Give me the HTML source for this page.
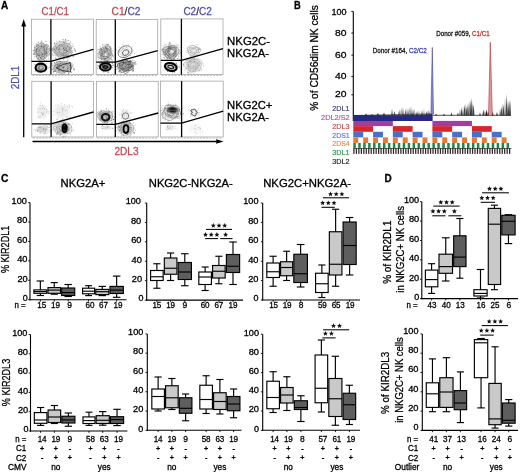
<!DOCTYPE html>
<html><head><meta charset="utf-8"><style>
html,body{margin:0;padding:0;background:#fff;}
svg{display:block;font-family:"Liberation Sans", sans-serif;will-change:transform;}
text{stroke:currentColor;stroke-width:0.28px;}
</style></head><body>
<svg width="520" height="472" viewBox="0 0 520 472">
<rect width="520" height="472" fill="#fff"/>
<text x="1" y="9.3" font-size="10" fill="#000" color="#000" text-anchor="start" font-weight="bold" >A</text>
<text x="41.5" y="14.6" font-size="11.2" textLength="27.5" lengthAdjust="spacingAndGlyphs"><tspan fill="#c44652" color="#c44652">C1/C1</tspan></text>
<text x="111.6" y="14.6" font-size="11.2" textLength="28.8" lengthAdjust="spacingAndGlyphs"><tspan fill="#c44652" color="#c44652">C1</tspan><tspan fill="#3a3a3a" color="#3a3a3a">/</tspan><tspan fill="#4f4fb0" color="#4f4fb0">C2</tspan></text>
<text x="183.4" y="14.6" font-size="11.2" textLength="28.4" lengthAdjust="spacingAndGlyphs"><tspan fill="#4f4fb0" color="#4f4fb0">C2</tspan><tspan fill="#2a2a50" color="#2a2a50">/</tspan><tspan fill="#4f4fb0" color="#4f4fb0">C2</tspan></text>
<text x="227.1" y="45.4" font-size="10.2" fill="#000" color="#000" text-anchor="start" textLength="43.0" lengthAdjust="spacingAndGlyphs" >NKG2C-</text>
<text x="227.1" y="56.9" font-size="10.2" fill="#000" color="#000" text-anchor="start" textLength="41.8" lengthAdjust="spacingAndGlyphs" >NKG2A-</text>
<text x="227.1" y="109.2" font-size="10.2" fill="#000" color="#000" text-anchor="start" textLength="45.3" lengthAdjust="spacingAndGlyphs" >NKG2C+</text>
<text x="227.1" y="120.7" font-size="10.2" fill="#000" color="#000" text-anchor="start" textLength="41.8" lengthAdjust="spacingAndGlyphs" >NKG2A-</text>
<line x1="23.7" y1="26" x2="23.7" y2="137.2" stroke="#000" stroke-width="1.3" />
<path d="M23.7 18.9 L21.3 26.6 L26.1 26.6 Z" fill="#000"/>
<line x1="32.5" y1="141.5" x2="216.5" y2="141.5" stroke="#000" stroke-width="1.3" />
<path d="M223.6 141.5 L216.2 139.3 L216.2 143.7 Z" fill="#000"/>
<text x="19" y="77.5" font-size="11.5" fill="#4f4fb0" color="#4f4fb0" text-anchor="middle" textLength="23.5" lengthAdjust="spacingAndGlyphs" transform="rotate(-90 19 77.5)" >2DL1</text>
<text x="114.5" y="155.3" font-size="11.5" fill="#c44652" color="#c44652" text-anchor="start" textLength="24" lengthAdjust="spacingAndGlyphs" >2DL3</text>
<defs><radialGradient id="soft"><stop offset="0" stop-color="#000"/><stop offset="0.6" stop-color="#000"/><stop offset="1" stop-color="#000" stop-opacity="0"/></radialGradient><radialGradient id="soft2"><stop offset="0" stop-color="#000"/><stop offset="0.35" stop-color="#000"/><stop offset="1" stop-color="#000" stop-opacity="0"/></radialGradient></defs>
<ellipse cx="41.8" cy="51.4" rx="8.2" ry="9.4" fill="url(#soft)" fill-opacity="0.280"/>
<path d="M40.9 52.7h.8M49.8 50.7h.8M41.9 53.3h.8M35.9 51.7h.8M44.2 57.7h.8M34.1 47.1h.8M45.4 41.5h.8M44.7 53.9h.8M42.3 41.9h.8M36.0 45.8h.8M32.9 50.6h.8M40.7 58.8h.8M42.2 54.4h.8M41.8 54.9h.8M41.0 46.6h.8M48.2 55.9h.8M38.3 45.6h.8M37.8 42.1h.8M46.8 49.2h.8M48.3 48.9h.8M49.5 50.8h.8M50.9 49.2h.8M33.7 54.2h.8M47.1 46.4h.8M34.0 47.8h.8M34.6 45.9h.8M47.4 44.4h.8M42.9 50.3h.8M36.0 56.4h.8M34.8 54.5h.8M34.6 49.7h.8M36.4 46.4h.8M38.1 59.7h.8M36.3 49.1h.8M48.5 54.5h.8M36.4 46.2h.8M46.9 47.7h.8M38.0 42.2h.8M34.1 53.2h.8M37.0 53.6h.8M39.4 50.4h.8M50.5 51.0h.8M43.2 59.3h.8M35.8 43.9h.8M37.1 44.7h.8M49.0 53.6h.8M40.3 42.8h.8M36.9 55.8h.8M37.2 58.4h.8M43.6 46.9h.8M35.7 56.2h.8M42.9 59.0h.8M44.0 46.6h.8M40.8 41.9h.8M35.7 48.6h.8M43.2 43.4h.8M39.2 59.9h.8M45.4 53.2h.8M32.8 54.3h.8M41.5 56.4h.8M33.8 52.4h.8M46.3 60.1h.8M46.3 55.8h.8M39.0 55.4h.8M40.2 57.7h.8M48.7 53.0h.8M44.2 48.9h.8M43.4 53.8h.8M33.9 54.4h.8M46.1 49.0h.8M46.2 53.2h.8M40.7 58.7h.8M34.0 56.8h.8M32.9 53.6h.8M41.4 45.6h.8M45.5 51.3h.8M44.0 60.5h.8M38.0 55.3h.8M36.2 44.3h.8M49.5 54.9h.8M40.7 59.9h.8M38.5 55.0h.8M36.1 49.9h.8M49.0 48.9h.8M43.4 47.4h.8M34.9 51.3h.8M48.2 58.9h.8M45.8 61.1h.8M37.6 44.2h.8M40.9 46.5h.8M36.4 49.5h.8M44.2 51.3h.8M38.3 58.7h.8M50.9 50.4h.8M45.7 52.9h.8M38.2 57.7h.8M40.9 41.1h.8M48.0 45.7h.8M44.2 50.2h.8M44.3 54.8h.8M45.3 44.9h.8M41.3 44.5h.8M32.6 50.8h.8M45.8 44.5h.8M37.5 48.1h.8M45.5 51.8h.8M44.0 56.9h.8M39.8 57.7h.8M50.0 56.2h.8M34.8 50.4h.8M44.2 60.3h.8" stroke="#000" stroke-width="0.8" stroke-opacity="0.45" fill="none"/>
<polygon points="48.64,51.40 47.84,52.62 47.34,53.70 47.10,54.90 46.82,56.21 46.20,57.40 45.24,58.22 44.12,58.68 42.98,59.06 41.80,59.56 40.46,60.07 39.01,60.17 37.71,59.50 36.87,58.11 36.57,56.41 36.51,54.89 36.27,53.70 35.66,52.64 34.91,51.40 34.49,49.93 34.71,48.45 35.51,47.25 36.55,46.37 37.53,45.58 38.42,44.71 39.38,43.81 40.54,43.23 41.80,43.25 42.97,43.81 43.99,44.52 45.02,45.03 46.26,45.33 47.68,45.76 48.94,46.69 49.57,48.17 49.38,49.87" fill="none" stroke="#666" stroke-width="0.5" opacity="0.9"/>
<polygon points="46.66,51.40 46.64,52.38 46.45,53.33 45.99,54.16 45.33,54.79 44.66,55.30 44.05,55.86 43.45,56.59 42.72,57.33 41.80,57.79 40.83,57.71 39.98,57.13 39.32,56.31 38.77,55.53 38.14,54.91 37.41,54.30 36.73,53.51 36.34,52.50 36.36,51.40 36.72,50.38 37.18,49.48 37.60,48.63 38.02,47.78 38.56,46.99 39.31,46.47 40.18,46.30 41.03,46.38 41.80,46.45 42.59,46.30 43.52,46.01 44.59,45.87 45.63,46.19 46.37,47.02 46.70,48.17 46.73,49.35 46.67,50.42" fill="none" stroke="#666" stroke-width="0.5" opacity="0.9"/>
<polygon points="44.70,51.40 44.58,51.96 44.53,52.53 44.44,53.14 44.22,53.72 43.83,54.17 43.34,54.44 42.82,54.60 42.31,54.74 41.80,54.89 41.24,55.00 40.67,54.94 40.16,54.65 39.77,54.17 39.47,53.63 39.20,53.11 38.90,52.61 38.60,52.04 38.44,51.40 38.50,50.74 38.80,50.15 39.22,49.70 39.63,49.32 39.99,48.94 40.34,48.52 40.76,48.12 41.26,47.87 41.80,47.83 42.33,47.95 42.84,48.12 43.37,48.30 43.92,48.52 44.43,48.88 44.79,49.43 44.92,50.10 44.85,50.78" fill="none" stroke="#666" stroke-width="0.5" opacity="0.9"/>
<ellipse cx="62.5" cy="50.0" rx="11.5" ry="9.5" fill="url(#soft)" fill-opacity="0.231"/>
<path d="M59.2 51.5h.8M72.5 56.5h.8M74.3 49.2h.8M66.5 43.6h.8M68.4 57.0h.8M66.2 54.8h.8M54.9 58.7h.8M63.5 56.4h.8M57.7 59.0h.8M71.9 46.7h.8M51.5 48.7h.8M63.8 55.9h.8M62.2 39.7h.8M70.4 42.9h.8M58.1 56.3h.8M62.9 54.9h.8M71.5 54.1h.8M74.3 49.8h.8M55.1 50.6h.8M56.9 55.0h.8M66.2 50.5h.8M71.6 51.3h.8M57.5 47.4h.8M54.8 57.7h.8M74.9 50.5h.8M64.4 43.5h.8M63.4 50.1h.8M65.3 39.7h.8M74.9 50.3h.8M59.9 56.6h.8M64.2 49.8h.8M67.6 40.5h.8M63.5 48.1h.8M56.4 49.4h.8M52.6 48.6h.8M61.9 46.0h.8M54.3 52.6h.8M54.4 44.0h.8M67.4 46.1h.8M58.7 52.6h.8M52.0 55.0h.8M52.5 50.2h.8M55.9 43.4h.8M63.3 48.6h.8M59.2 48.1h.8M63.3 42.6h.8M54.7 52.9h.8M66.2 50.6h.8M71.8 52.4h.8M71.9 44.2h.8M68.9 56.8h.8M73.2 46.0h.8M57.6 59.2h.8M55.6 55.0h.8M56.1 41.2h.8M71.3 48.3h.8M70.2 41.8h.8M59.9 54.0h.8M67.3 59.0h.8M62.7 55.6h.8M62.6 54.1h.8M63.9 50.3h.8M64.3 42.3h.8M54.2 43.5h.8M61.5 55.8h.8M57.9 49.3h.8M62.9 48.5h.8M65.2 39.4h.8M67.8 57.5h.8M54.1 49.0h.8M68.8 47.9h.8M54.4 42.7h.8M62.8 39.4h.8M72.9 56.6h.8M67.9 57.9h.8M65.9 47.9h.8M65.1 50.1h.8M56.1 59.0h.8M69.0 56.1h.8M70.8 47.9h.8M67.7 55.8h.8M69.5 47.9h.8M68.4 40.6h.8M58.3 49.3h.8M66.2 52.7h.8M66.9 46.5h.8M66.7 51.5h.8M63.4 47.6h.8M67.8 55.7h.8M65.6 55.2h.8M56.1 47.8h.8M59.2 41.2h.8M55.9 58.9h.8M63.8 50.2h.8M74.9 51.5h.8M65.1 55.7h.8M53.5 49.4h.8M53.7 49.9h.8M65.4 40.4h.8M74.3 48.3h.8M63.2 52.1h.8M58.9 45.3h.8M66.6 51.3h.8M56.8 54.7h.8M53.4 55.6h.8M59.6 58.7h.8M60.6 49.5h.8M63.1 59.6h.8M68.4 49.3h.8M65.2 41.6h.8M65.8 49.0h.8M63.2 41.8h.8M61.0 53.7h.8M61.3 44.8h.8M64.7 48.2h.8M69.9 50.7h.8M68.7 44.3h.8M70.0 52.7h.8M58.8 45.0h.8M67.4 51.4h.8M64.9 52.9h.8M69.2 43.2h.8M56.4 48.4h.8M65.8 41.3h.8M63.6 40.7h.8M51.6 53.9h.8M63.8 52.9h.8M59.1 49.5h.8M54.8 46.6h.8" stroke="#000" stroke-width="0.8" stroke-opacity="0.42" fill="none"/>
<polygon points="70.68,50.00 71.10,51.20 71.65,52.64 71.77,54.25 71.10,55.71 69.71,56.77 68.00,57.39 66.25,57.79 64.55,58.16 62.80,58.41 61.02,58.29 59.44,57.57 58.31,56.39 57.59,55.10 56.95,54.03 55.99,53.23 54.67,52.43 53.38,51.36 52.67,50.00 52.82,48.55 53.63,47.26 54.64,46.13 55.57,45.02 56.46,43.80 57.61,42.62 59.17,41.82 61.00,41.63 62.80,42.00 64.40,42.57 65.88,43.05 67.42,43.43 68.99,43.95 70.26,44.86 70.91,46.15 70.92,47.57 70.68,48.86" fill="none" stroke="#777" stroke-width="0.5" opacity="0.9"/>
<polygon points="69.31,50.00 69.11,50.91 69.13,51.89 69.13,53.00 68.73,54.08 67.76,54.86 66.44,55.17 65.08,55.14 63.88,55.05 62.80,55.10 61.68,55.24 60.49,55.20 59.43,54.80 58.63,54.08 58.06,53.26 57.46,52.53 56.61,51.85 55.60,51.04 54.84,50.00 54.75,48.83 55.43,47.80 56.59,47.06 57.78,46.54 58.75,46.03 59.57,45.41 60.48,44.77 61.60,44.40 62.80,44.45 63.91,44.83 64.89,45.28 65.91,45.58 67.09,45.81 68.34,46.18 69.33,46.90 69.77,47.92 69.66,49.01" fill="none" stroke="#777" stroke-width="0.5" opacity="0.9"/>
<polygon points="67.08,50.00 67.30,50.65 67.24,51.33 66.87,51.93 66.29,52.40 65.64,52.78 64.98,53.10 64.30,53.38 63.57,53.57 62.80,53.59 62.06,53.43 61.41,53.13 60.84,52.78 60.31,52.44 59.78,52.08 59.31,51.65 58.98,51.14 58.84,50.57 58.85,50.00 58.92,49.44 58.97,48.86 59.04,48.22 59.24,47.55 59.67,46.94 60.35,46.52 61.17,46.33 62.02,46.35 62.80,46.48 63.52,46.66 64.18,46.89 64.77,47.20 65.25,47.61 65.61,48.07 65.92,48.52 66.26,48.97 66.68,49.44" fill="none" stroke="#777" stroke-width="0.5" opacity="0.9"/>
<ellipse cx="62.0" cy="67.2" rx="11.0" ry="7.0" fill="url(#soft)" fill-opacity="0.266"/>
<path d="M68.2 72.7h.8M69.8 69.2h.8M68.8 62.6h.8M60.1 63.3h.8M69.8 65.1h.8M57.6 68.0h.8M68.2 74.0h.8M60.2 65.1h.8M63.6 67.0h.8M66.7 64.0h.8M54.7 69.8h.8M51.4 64.0h.8M67.7 70.3h.8M56.5 61.5h.8M58.4 70.8h.8M58.6 61.0h.8M67.3 68.3h.8M72.5 66.2h.8M69.7 64.1h.8M57.4 65.6h.8M55.6 65.0h.8M58.6 65.0h.8M59.4 65.4h.8M54.3 68.2h.8M69.5 67.9h.8M70.5 68.2h.8M53.8 71.4h.8M71.6 63.7h.8M49.9 67.5h.8M63.1 68.3h.8M73.8 69.6h.8M63.2 71.8h.8M68.0 73.6h.8M51.5 69.4h.8M53.0 71.2h.8M65.8 63.1h.8M54.9 71.5h.8M62.5 71.5h.8M59.3 64.6h.8M73.8 70.0h.8M61.8 67.8h.8M67.6 70.6h.8M72.5 65.8h.8M70.3 69.9h.8M70.9 72.1h.8M73.6 69.5h.8M62.6 70.6h.8M69.6 65.9h.8M60.0 61.5h.8M58.9 61.8h.8M54.5 66.0h.8M50.8 64.1h.8M52.3 69.6h.8M69.0 62.0h.8M50.9 66.5h.8M64.1 73.8h.8M54.0 62.6h.8M55.3 70.7h.8M64.4 62.8h.8M54.0 63.7h.8M53.7 71.3h.8M57.2 68.0h.8M70.0 66.9h.8M55.9 73.4h.8M72.5 64.7h.8M63.2 74.6h.8M61.6 62.7h.8M69.6 65.3h.8M62.7 67.5h.8M66.0 63.0h.8M49.6 66.8h.8M58.8 72.0h.8M67.4 68.9h.8M53.3 61.7h.8M57.5 63.3h.8M71.3 67.5h.8M56.1 67.8h.8M53.2 71.6h.8M70.8 72.4h.8M51.4 63.5h.8M67.5 60.7h.8M61.5 66.7h.8M73.5 68.6h.8M71.0 64.0h.8M69.3 65.9h.8M70.3 62.5h.8M63.1 67.6h.8M53.3 72.5h.8M57.2 64.2h.8M51.3 64.1h.8M61.2 70.7h.8M58.5 70.2h.8M52.0 65.5h.8M61.0 74.7h.8M70.3 69.7h.8M67.3 63.0h.8M63.6 66.5h.8M69.6 62.5h.8M64.9 63.8h.8M58.9 67.8h.8M56.9 64.6h.8M59.3 69.9h.8M55.8 62.4h.8M67.9 64.5h.8M73.3 68.2h.8" stroke="#000" stroke-width="0.8" stroke-opacity="0.44" fill="none"/>
<polygon points="71.81,67.00 71.64,68.04 70.92,68.98 69.77,69.70 68.49,70.24 67.36,70.73 66.40,71.35 65.38,72.10 64.09,72.81 62.50,73.24 60.79,73.26 59.15,72.93 57.68,72.38 56.33,71.74 55.10,71.00 54.12,70.12 53.62,69.08 53.68,68.00 54.14,67.00 54.67,66.11 55.04,65.25 55.31,64.33 55.74,63.35 56.59,62.46 57.89,61.85 59.43,61.56 60.99,61.48 62.50,61.43 64.04,61.36 65.69,61.36 67.34,61.60 68.77,62.18 69.84,63.03 70.56,64.00 71.10,64.98 71.55,65.97" fill="none" stroke="#666" stroke-width="0.5" opacity="0.9"/>
<polygon points="68.35,67.00 68.29,67.66 68.02,68.29 67.61,68.90 67.08,69.47 66.37,69.97 65.48,70.33 64.46,70.48 63.44,70.45 62.50,70.33 61.62,70.22 60.73,70.13 59.82,70.00 58.95,69.72 58.27,69.29 57.84,68.73 57.59,68.15 57.41,67.58 57.20,67.00 57.03,66.38 57.04,65.72 57.34,65.08 57.93,64.53 58.72,64.09 59.59,63.75 60.50,63.46 61.48,63.27 62.50,63.24 63.48,63.42 64.31,63.79 64.97,64.25 65.52,64.68 66.12,65.04 66.82,65.39 67.53,65.82 68.09,66.37" fill="none" stroke="#666" stroke-width="0.5" opacity="0.9"/>
<path d="M56.3 67.9 Q63 63.5 70.2 62.8 Q71.5 67.5 70.4 72.0 Q63 71.5 56.3 67.9 Z" fill="none" stroke="#333" stroke-width="0.9"/>
<ellipse cx="40.85" cy="67.65" rx="6.6" ry="5.3" fill="url(#soft)" fill-opacity="0.210"/>
<path d="M44.2 65.6h.8M43.5 70.2h.8M36.0 66.5h.8M46.0 68.8h.8M34.6 64.3h.8M39.4 62.4h.8M47.2 66.8h.8M41.0 69.4h.8M44.9 71.6h.8M39.1 65.6h.8M39.5 61.7h.8M39.3 70.1h.8M43.3 69.0h.8M38.5 69.5h.8M34.9 66.2h.8M41.0 71.2h.8M45.8 69.0h.8M35.7 70.9h.8M47.0 68.2h.8M38.6 67.7h.8M35.4 70.3h.8M48.2 67.8h.8M44.1 71.7h.8M42.8 64.0h.8M34.5 64.5h.8M42.0 70.1h.8M38.3 72.9h.8M38.7 67.2h.8M41.5 68.4h.8M41.8 64.8h.8M45.7 68.9h.8M35.1 71.6h.8M37.6 72.5h.8M36.9 68.5h.8M45.9 63.8h.8M41.6 62.5h.8M43.3 65.3h.8M43.4 70.5h.8M39.1 68.8h.8" stroke="#000" stroke-width="0.8" stroke-opacity="0.40" fill="none"/>
<ellipse cx="40.85" cy="67.65" rx="5.3" ry="4.0" fill="none" stroke="#000" stroke-width="2.1" opacity="1"/>
<ellipse cx="40.85" cy="67.65" rx="2.6" ry="1.8" fill="none" stroke="#444" stroke-width="0.6" opacity="1"/>
<ellipse cx="105.6" cy="53.6" rx="7.8" ry="8.6" fill="url(#soft)" fill-opacity="0.280"/>
<path d="M100.2 53.0h.8M99.2 51.4h.8M106.8 47.1h.8M106.0 48.9h.8M106.8 50.3h.8M108.1 44.5h.8M108.7 46.6h.8M113.8 55.6h.8M105.1 51.8h.8M107.8 57.3h.8M110.2 58.6h.8M105.3 63.4h.8M111.7 60.6h.8M104.0 52.3h.8M106.8 61.6h.8M106.1 54.1h.8M104.4 61.6h.8M102.4 44.8h.8M109.6 61.5h.8M109.8 55.5h.8M110.1 49.7h.8M107.3 45.1h.8M98.9 52.6h.8M105.6 51.6h.8M97.6 57.5h.8M106.1 48.4h.8M102.1 51.5h.8M108.6 60.8h.8M104.2 59.6h.8M100.6 58.5h.8M106.8 61.6h.8M98.4 59.4h.8M98.9 54.3h.8M101.0 49.6h.8M102.5 44.9h.8M103.8 50.8h.8M107.1 44.6h.8M102.2 53.6h.8M105.1 47.8h.8M101.9 62.0h.8M111.7 50.7h.8M105.1 47.1h.8M100.3 56.2h.8M100.1 61.1h.8M109.7 49.9h.8M109.4 46.4h.8M109.1 62.3h.8M104.6 45.3h.8M100.6 49.8h.8M109.4 47.6h.8M99.9 48.4h.8M108.6 59.3h.8M103.3 56.8h.8M112.5 55.4h.8M100.7 49.7h.8M113.3 56.9h.8M101.6 56.4h.8M104.5 54.2h.8M106.2 44.6h.8M107.4 49.3h.8M101.1 59.6h.8M98.2 49.4h.8M110.2 48.6h.8M101.6 54.6h.8M104.9 58.6h.8M103.5 62.1h.8M105.6 47.3h.8M106.6 56.5h.8M103.1 56.7h.8M110.7 53.9h.8M105.7 60.4h.8M108.9 54.0h.8M110.6 47.0h.8M107.5 48.4h.8M104.5 59.0h.8M110.7 59.4h.8M100.9 53.4h.8M100.6 55.2h.8M105.6 44.4h.8M107.3 57.8h.8M106.9 61.0h.8M99.9 46.7h.8M96.9 53.5h.8M104.4 52.4h.8M101.3 59.5h.8M106.8 54.5h.8M110.8 48.4h.8M99.3 49.9h.8M97.4 49.9h.8M107.8 54.1h.8M101.4 55.4h.8M99.7 48.8h.8M99.5 57.4h.8M111.5 59.3h.8M97.7 51.8h.8M103.2 48.0h.8M105.4 58.8h.8" stroke="#000" stroke-width="0.8" stroke-opacity="0.45" fill="none"/>
<polygon points="111.94,53.60 112.35,54.94 112.28,56.33 111.65,57.52 110.70,58.40 109.71,59.09 108.78,59.77 107.82,60.45 106.75,60.92 105.60,60.94 104.52,60.50 103.57,59.85 102.65,59.34 101.54,59.02 100.22,58.67 98.92,57.92 98.09,56.67 98.00,55.10 98.57,53.60 99.41,52.38 100.14,51.37 100.62,50.38 101.05,49.32 101.64,48.31 102.49,47.57 103.49,47.11 104.52,46.76 105.60,46.33 106.82,45.86 108.18,45.65 109.48,46.07 110.41,47.17 110.83,48.68 110.90,50.17 111.00,51.40 111.37,52.46" fill="none" stroke="#666" stroke-width="0.5" opacity="0.9"/>
<polygon points="111.33,53.60 111.12,54.69 110.41,55.56 109.49,56.12 108.66,56.48 108.07,56.89 107.60,57.48 107.07,58.13 106.39,58.61 105.60,58.77 104.80,58.68 104.01,58.51 103.15,58.37 102.21,58.13 101.32,57.62 100.74,56.75 100.60,55.64 100.84,54.54 101.18,53.60 101.38,52.77 101.41,51.89 101.46,50.92 101.77,50.00 102.42,49.35 103.27,49.07 104.11,49.02 104.87,48.96 105.60,48.76 106.40,48.53 107.25,48.52 108.04,48.85 108.68,49.48 109.20,50.21 109.75,50.92 110.39,51.64 111.01,52.53" fill="none" stroke="#666" stroke-width="0.5" opacity="0.9"/>
<polygon points="108.69,53.60 108.63,54.20 108.37,54.73 108.05,55.19 107.76,55.63 107.47,56.10 107.11,56.53 106.64,56.80 106.11,56.83 105.60,56.70 105.13,56.56 104.65,56.52 104.09,56.53 103.48,56.43 102.96,56.08 102.68,55.49 102.69,54.79 102.86,54.14 103.03,53.60 103.10,53.11 103.11,52.58 103.19,52.04 103.42,51.55 103.78,51.17 104.20,50.88 104.61,50.57 105.07,50.20 105.60,49.89 106.20,49.80 106.75,50.05 107.15,50.59 107.38,51.22 107.56,51.76 107.80,52.17 108.16,52.56 108.51,53.03" fill="none" stroke="#666" stroke-width="0.5" opacity="0.9"/>
<ellipse cx="106" cy="54.5" rx="1.5" ry="1.5" fill="#fff" fill-opacity="0.6"/>
<ellipse cx="125" cy="51.7" rx="8.5" ry="7.0" fill="url(#soft)" fill-opacity="0.070"/>
<path d="M124.1 55.6h.8M122.9 48.4h.8M123.5 44.9h.8M130.1 55.5h.8M119.7 47.7h.8M126.0 47.5h.8M124.2 58.7h.8M122.3 49.1h.8M134.4 53.5h.8M116.0 50.1h.8M127.9 44.6h.8M121.9 54.8h.8M132.1 53.2h.8M132.6 51.1h.8M122.9 57.2h.8M122.7 56.2h.8M119.4 49.2h.8M118.8 52.5h.8M118.4 46.9h.8M119.4 51.2h.8M121.3 50.8h.8M132.1 46.9h.8M122.7 44.8h.8" stroke="#000" stroke-width="0.8" stroke-opacity="0.30" fill="none"/>
<ellipse cx="125" cy="51.7" rx="7.4" ry="5.4" fill="none" stroke="#666" stroke-width="0.7" opacity="1" transform="rotate(-30 125 51.7)"/>
<ellipse cx="125.7" cy="52.6" rx="3.4" ry="2.6" fill="none" stroke="#555" stroke-width="0.8" opacity="1" transform="rotate(-30 125.7 52.6)"/>
<ellipse cx="105.4" cy="66.9" rx="7.6" ry="5.2" fill="url(#soft)" fill-opacity="0.315"/>
<path d="M108.7 65.3h.8M99.8 64.1h.8M103.5 72.0h.8M109.2 64.1h.8M103.0 62.8h.8M113.0 65.2h.8M110.0 69.6h.8M102.3 65.5h.8M102.3 70.1h.8M105.7 61.6h.8M103.5 63.8h.8M107.1 61.3h.8M102.1 66.0h.8M106.2 62.5h.8M109.0 64.0h.8M109.3 68.9h.8M99.2 63.4h.8M101.6 69.4h.8M103.7 65.5h.8M111.8 63.6h.8M101.8 65.0h.8M97.1 68.5h.8M106.6 70.6h.8M108.4 71.9h.8M100.4 69.2h.8M108.3 72.3h.8M111.8 63.7h.8M107.7 62.0h.8M104.1 65.6h.8M97.7 65.5h.8M102.4 66.9h.8M101.6 62.8h.8M103.7 66.6h.8M99.6 68.9h.8M100.9 62.0h.8M102.6 66.0h.8M99.3 67.9h.8M108.9 67.5h.8M103.5 65.3h.8M97.8 65.8h.8M97.6 66.8h.8M106.9 66.5h.8M102.4 64.0h.8M112.2 67.7h.8M101.2 68.9h.8M99.9 66.5h.8M107.4 72.3h.8M103.0 67.8h.8M107.6 68.3h.8M103.8 65.9h.8M101.5 70.8h.8M112.0 65.5h.8M99.0 67.0h.8M102.1 65.2h.8M100.0 63.7h.8M108.5 63.7h.8M103.5 63.8h.8M105.3 68.7h.8M106.2 68.4h.8M106.5 70.9h.8M113.6 64.9h.8M102.7 71.5h.8M102.1 69.5h.8M108.8 69.1h.8M99.4 68.4h.8" stroke="#000" stroke-width="0.8" stroke-opacity="0.47" fill="none"/>
<ellipse cx="105.4" cy="67.0" rx="4.8" ry="3.0" fill="url(#soft2)" fill-opacity="0.550"/>
<ellipse cx="105.4" cy="66.9" rx="5.4" ry="3.6" fill="none" stroke="#000" stroke-width="1.9" opacity="1"/>
<ellipse cx="105.4" cy="67.1" rx="2.4" ry="1.2" fill="none" stroke="#111" stroke-width="1.2" opacity="1"/>
<ellipse cx="125.5" cy="65.8" rx="9.4" ry="7.0" fill="url(#soft)" fill-opacity="0.336"/>
<path d="M125.3 66.8h.8M122.7 62.3h.8M130.9 66.3h.8M119.8 61.8h.8M121.7 60.6h.8M125.8 59.8h.8M116.9 69.1h.8M117.1 65.0h.8M131.4 65.5h.8M118.2 71.7h.8M120.2 65.9h.8M131.9 64.1h.8M130.2 61.8h.8M130.2 63.0h.8M121.9 70.0h.8M132.9 71.1h.8M127.0 64.5h.8M130.0 67.8h.8M132.7 70.6h.8M117.4 63.8h.8M129.2 61.5h.8M127.3 72.9h.8M129.6 64.5h.8M128.3 64.1h.8M115.7 69.2h.8M120.9 69.5h.8M126.4 65.5h.8M122.8 62.7h.8M132.0 71.3h.8M120.8 64.1h.8M128.0 70.1h.8M135.9 64.0h.8M129.7 66.5h.8M132.0 60.1h.8M134.9 61.8h.8M125.2 59.7h.8M126.9 60.1h.8M128.2 62.2h.8M119.6 65.5h.8M122.6 61.9h.8M134.0 62.7h.8M125.1 73.8h.8M119.1 71.7h.8M125.2 64.4h.8M132.1 64.1h.8M115.9 66.6h.8M128.9 67.8h.8M120.7 72.9h.8M124.3 71.2h.8M130.4 60.6h.8M122.5 69.9h.8M121.4 66.0h.8M126.1 70.8h.8M131.8 69.6h.8M123.3 70.7h.8M132.6 70.1h.8M135.2 64.2h.8M129.9 61.8h.8M127.2 61.4h.8M123.1 63.7h.8M128.9 70.8h.8M122.6 68.0h.8M122.3 62.2h.8M134.3 62.9h.8M116.7 63.1h.8M130.7 61.2h.8M130.8 66.5h.8M129.4 60.6h.8M122.3 64.7h.8M114.9 65.8h.8M123.4 62.9h.8M126.3 73.1h.8M119.1 71.9h.8M121.6 69.9h.8M124.0 73.2h.8M119.4 64.3h.8M130.0 60.6h.8M120.6 68.7h.8M135.2 62.9h.8M118.7 63.5h.8M128.4 63.8h.8M128.6 61.2h.8M128.0 72.0h.8M133.2 67.9h.8M125.6 66.9h.8M129.6 65.0h.8M129.1 64.5h.8M123.0 61.5h.8M127.7 67.0h.8M125.8 58.3h.8M128.3 64.9h.8M127.5 67.3h.8M124.8 73.7h.8M130.6 62.8h.8M123.4 71.7h.8M125.3 61.5h.8M132.9 68.2h.8M131.9 66.0h.8M133.5 69.2h.8M120.1 70.7h.8M124.5 66.4h.8M133.4 60.9h.8M120.7 68.1h.8M116.3 66.7h.8M131.7 65.7h.8M119.9 70.6h.8M133.2 70.2h.8M126.6 72.3h.8" stroke="#000" stroke-width="0.8" stroke-opacity="0.49" fill="none"/>
<polygon points="133.41,66.00 132.90,66.95 132.61,67.88 132.33,68.86 131.68,69.76 130.55,70.36 129.16,70.59 127.84,70.66 126.69,70.91 125.50,71.46 124.02,72.10 122.29,72.38 120.72,72.00 119.68,71.03 119.22,69.82 119.00,68.72 118.60,67.82 117.95,66.97 117.40,66.00 117.38,64.96 118.02,64.03 119.03,63.29 119.99,62.65 120.74,61.89 121.49,60.96 122.54,60.10 123.96,59.68 125.50,59.87 126.84,60.50 127.93,61.16 129.04,61.55 130.44,61.73 132.05,62.02 133.42,62.68 134.10,63.73 133.97,64.92" fill="none" stroke="#333" stroke-width="0.6" opacity="0.9"/>
<polygon points="132.12,66.00 131.90,66.82 131.22,67.51 130.34,68.03 129.54,68.46 128.89,68.93 128.27,69.48 127.50,69.98 126.53,70.24 125.50,70.17 124.56,69.86 123.74,69.50 122.92,69.24 122.00,69.03 121.01,68.73 120.18,68.23 119.69,67.53 119.53,66.76 119.55,66.00 119.57,65.24 119.61,64.45 119.87,63.64 120.52,62.97 121.55,62.58 122.72,62.51 123.80,62.61 124.69,62.65 125.50,62.52 126.40,62.29 127.42,62.17 128.43,62.32 129.28,62.73 129.97,63.28 130.59,63.87 131.25,64.48 131.84,65.19" fill="none" stroke="#333" stroke-width="0.6" opacity="0.9"/>
<polygon points="128.93,66.00 129.15,66.47 129.27,67.00 129.15,67.53 128.71,67.96 128.04,68.19 127.29,68.25 126.62,68.23 126.05,68.25 125.50,68.34 124.91,68.44 124.28,68.44 123.69,68.27 123.21,67.98 122.83,67.62 122.49,67.26 122.17,66.88 121.94,66.46 121.89,66.00 122.05,65.56 122.36,65.17 122.68,64.82 122.94,64.44 123.17,63.99 123.52,63.52 124.07,63.15 124.77,63.02 125.50,63.14 126.12,63.44 126.62,63.76 127.07,64.03 127.51,64.27 127.93,64.52 128.29,64.83 128.54,65.20 128.73,65.59" fill="none" stroke="#333" stroke-width="0.6" opacity="0.9"/>
<ellipse cx="171.0" cy="51.9" rx="8.4" ry="8.2" fill="url(#soft)" fill-opacity="0.280"/>
<path d="M176.7 45.3h.8M168.4 44.4h.8M162.1 49.0h.8M178.0 58.2h.8M163.6 45.9h.8M168.8 58.5h.8M173.3 59.5h.8M165.3 54.3h.8M178.3 56.2h.8M165.1 55.1h.8M169.7 42.8h.8M167.9 48.4h.8M173.5 47.7h.8M173.0 55.6h.8M164.8 44.9h.8M174.7 51.3h.8M179.5 54.0h.8M168.2 46.2h.8M175.6 49.3h.8M167.3 50.2h.8M164.2 54.4h.8M169.5 57.9h.8M169.2 51.1h.8M171.1 60.2h.8M168.0 55.7h.8M165.9 53.4h.8M166.8 58.9h.8M166.9 58.6h.8M174.4 51.0h.8M179.4 49.8h.8M175.7 53.8h.8M170.0 43.7h.8M169.4 47.8h.8M169.9 60.5h.8M167.0 55.6h.8M174.3 47.1h.8M169.3 45.0h.8M178.6 47.2h.8M169.5 48.9h.8M177.2 58.5h.8M172.8 52.8h.8M163.0 49.3h.8M168.6 56.1h.8M174.3 49.0h.8M161.8 54.4h.8M170.4 49.3h.8M170.3 48.4h.8M174.3 53.9h.8M177.3 54.7h.8M162.6 51.2h.8M169.1 54.8h.8M165.4 49.4h.8M164.1 49.9h.8M175.7 44.0h.8M164.6 54.7h.8M173.4 56.5h.8M166.2 57.8h.8M175.5 57.1h.8M163.7 51.3h.8M161.8 49.1h.8M171.7 52.5h.8M163.5 57.4h.8M167.2 52.0h.8M163.7 53.2h.8M171.2 48.0h.8M176.4 47.1h.8M169.3 43.5h.8M165.5 51.0h.8M172.1 51.1h.8M177.8 45.4h.8M180.1 52.4h.8M169.2 54.0h.8M169.3 42.7h.8M164.3 57.9h.8M175.5 55.9h.8M164.4 52.5h.8M173.8 58.5h.8M162.2 50.3h.8M162.9 47.4h.8M167.7 51.7h.8M174.0 59.2h.8M179.6 53.2h.8M171.0 59.5h.8M169.0 48.1h.8M175.6 47.3h.8M168.4 50.6h.8M170.6 49.2h.8M169.7 51.0h.8M162.5 52.4h.8M171.9 50.0h.8M165.6 44.3h.8M168.5 48.4h.8M170.7 46.8h.8M175.8 51.7h.8M161.5 50.1h.8M172.8 60.6h.8M168.4 53.7h.8M168.5 48.2h.8M173.1 53.6h.8" stroke="#000" stroke-width="0.8" stroke-opacity="0.45" fill="none"/>
<polygon points="178.95,51.90 178.39,53.17 177.53,54.21 176.67,55.09 175.98,55.96 175.35,56.94 174.58,57.92 173.52,58.64 172.27,58.89 171.00,58.68 169.85,58.27 168.76,57.88 167.64,57.57 166.44,57.19 165.30,56.55 164.42,55.59 163.88,54.42 163.58,53.17 163.39,51.90 163.28,50.58 163.43,49.22 164.03,47.99 165.13,47.11 166.51,46.69 167.86,46.61 169.00,46.56 169.98,46.29 171.00,45.82 172.18,45.38 173.48,45.28 174.74,45.61 175.84,46.29 176.82,47.15 177.73,48.12 178.52,49.24 178.99,50.53" fill="none" stroke="#555" stroke-width="0.6" opacity="0.9"/>
<polygon points="175.73,51.90 175.70,52.71 175.68,53.55 175.43,54.39 174.88,55.07 174.13,55.53 173.37,55.89 172.65,56.31 171.90,56.85 171.00,57.34 169.99,57.50 169.03,57.16 168.30,56.44 167.79,55.61 167.33,54.90 166.73,54.30 166.03,53.66 165.47,52.85 165.32,51.90 165.63,50.98 166.22,50.21 166.82,49.56 167.32,48.90 167.80,48.19 168.41,47.54 169.22,47.14 170.13,47.09 171.00,47.25 171.82,47.38 172.70,47.36 173.73,47.30 174.82,47.47 175.71,48.06 176.15,49.01 176.15,50.08 175.91,51.06" fill="none" stroke="#555" stroke-width="0.6" opacity="0.9"/>
<polygon points="174.26,51.90 174.52,52.50 174.48,53.13 174.09,53.64 173.50,53.94 172.92,54.12 172.45,54.33 172.04,54.67 171.57,55.04 171.00,55.27 170.40,55.21 169.88,54.89 169.47,54.48 169.08,54.12 168.65,53.82 168.19,53.48 167.87,53.01 167.80,52.45 167.99,51.90 168.25,51.43 168.40,50.98 168.41,50.44 168.41,49.79 168.62,49.14 169.10,48.69 169.75,48.57 170.42,48.71 171.00,48.92 171.52,49.05 172.04,49.11 172.58,49.24 173.04,49.54 173.33,50.00 173.48,50.51 173.63,50.97 173.90,51.40" fill="none" stroke="#555" stroke-width="0.6" opacity="0.9"/>
<ellipse cx="172" cy="51.5" rx="1.8" ry="1.8" fill="#fff" fill-opacity="0.7"/>
<ellipse cx="193.6" cy="50.5" rx="7.6" ry="5.6" fill="url(#soft)" fill-opacity="0.084"/>
<path d="M190.4 50.5h.8M193.9 53.8h.8M189.3 47.5h.8M198.8 49.5h.8M199.9 49.2h.8M189.9 52.8h.8M199.4 48.3h.8M190.4 54.6h.8M198.6 52.3h.8M185.7 52.1h.8M194.5 56.0h.8M196.0 44.3h.8M197.7 49.4h.8M198.5 49.7h.8M198.0 48.9h.8M192.7 49.7h.8M186.9 48.2h.8M197.7 45.0h.8M196.5 51.1h.8M190.3 56.3h.8" stroke="#000" stroke-width="0.8" stroke-opacity="0.31" fill="none"/>
<polygon points="200.76,50.50 200.34,51.36 199.73,52.12 199.10,52.81 198.46,53.47 197.73,54.08 196.84,54.59 195.82,54.94 194.73,55.18 193.60,55.34 192.40,55.45 191.14,55.41 189.95,55.10 189.01,54.47 188.49,53.62 188.33,52.71 188.31,51.90 188.17,51.20 187.84,50.50 187.45,49.71 187.27,48.82 187.46,47.92 188.05,47.12 188.94,46.46 189.98,45.94 191.14,45.58 192.37,45.43 193.60,45.54 194.71,45.91 195.64,46.43 196.43,46.94 197.25,47.33 198.23,47.67 199.31,48.10 200.24,48.74 200.76,49.58" fill="none" stroke="#888" stroke-width="0.55" opacity="0.9"/>
<polygon points="198.53,50.50 198.60,51.14 198.31,51.75 197.68,52.21 196.91,52.52 196.25,52.80 195.73,53.18 195.19,53.68 194.47,54.10 193.60,54.23 192.76,53.97 192.10,53.49 191.59,53.04 190.99,52.76 190.15,52.60 189.17,52.36 188.36,51.89 188.01,51.22 188.15,50.50 188.57,49.85 189.00,49.28 189.37,48.72 189.82,48.19 190.48,47.80 191.36,47.67 192.24,47.79 192.98,47.95 193.60,47.91 194.30,47.61 195.24,47.23 196.32,47.07 197.29,47.30 197.88,47.89 198.11,48.61 198.18,49.29 198.32,49.89" fill="none" stroke="#888" stroke-width="0.55" opacity="0.9"/>
<polygon points="196.48,50.50 196.54,50.88 196.46,51.26 196.21,51.60 195.86,51.88 195.48,52.13 195.09,52.38 194.66,52.63 194.16,52.80 193.60,52.82 193.08,52.66 192.66,52.38 192.34,52.09 192.03,51.86 191.65,51.69 191.22,51.50 190.81,51.24 190.55,50.89 190.47,50.50 190.54,50.11 190.67,49.73 190.86,49.35 191.13,49.00 191.54,48.72 192.07,48.57 192.63,48.57 193.15,48.62 193.60,48.66 194.05,48.63 194.56,48.57 195.11,48.60 195.60,48.76 195.95,49.06 196.15,49.43 196.25,49.80 196.36,50.15" fill="none" stroke="#888" stroke-width="0.55" opacity="0.9"/>
<ellipse cx="170.8" cy="67.0" rx="8.2" ry="5.4" fill="url(#soft)" fill-opacity="0.210"/>
<path d="M171.9 72.2h.8M165.4 65.9h.8M171.5 71.2h.8M170.3 61.2h.8M169.5 65.5h.8M174.1 72.3h.8M170.7 69.4h.8M168.7 70.5h.8M163.4 70.0h.8M164.5 68.1h.8M165.2 65.1h.8M164.5 65.1h.8M172.5 67.2h.8M168.7 67.9h.8M177.3 65.2h.8M172.4 66.8h.8M174.5 63.7h.8M166.3 69.9h.8M172.2 64.0h.8M168.5 69.7h.8M169.5 68.5h.8M171.9 72.9h.8M178.5 66.5h.8M170.6 63.7h.8M175.6 62.1h.8M167.2 71.3h.8M172.1 67.6h.8M167.7 62.7h.8M176.2 63.5h.8M165.1 67.4h.8M172.9 62.3h.8M175.8 68.0h.8M174.4 65.3h.8M166.9 71.4h.8M175.1 64.1h.8M171.5 63.9h.8M166.9 63.9h.8M163.9 66.8h.8M166.5 64.3h.8M166.6 67.1h.8M172.9 67.5h.8M175.2 67.4h.8M173.8 72.2h.8M176.0 64.0h.8M168.2 70.6h.8M165.8 66.4h.8M168.4 69.8h.8M179.2 67.1h.8M172.0 65.1h.8" stroke="#000" stroke-width="0.8" stroke-opacity="0.40" fill="none"/>
<ellipse cx="170.8" cy="67.0" rx="6.0" ry="3.8" fill="none" stroke="#000" stroke-width="2.0" opacity="1" transform="rotate(15 170.8 67.0)"/>
<ellipse cx="170.8" cy="67.0" rx="3.0" ry="1.5" fill="none" stroke="#111" stroke-width="1.0" opacity="1" transform="rotate(15 170.8 67.0)"/>
<ellipse cx="193.2" cy="64.8" rx="9.2" ry="8.6" fill="url(#soft)" fill-opacity="0.140"/>
<path d="M196.5 56.3h.8M194.6 57.3h.8M196.7 56.3h.8M183.2 66.2h.8M200.7 70.4h.8M193.6 56.4h.8M193.8 58.6h.8M193.8 61.9h.8M193.2 58.8h.8M197.5 63.2h.8M192.9 56.5h.8M192.9 65.9h.8M203.2 66.0h.8M185.5 60.8h.8M189.7 68.8h.8M183.0 64.6h.8M195.1 68.5h.8M195.6 67.0h.8M193.6 73.9h.8M200.2 68.5h.8M193.6 66.4h.8M198.6 70.9h.8M200.3 63.0h.8M189.7 61.8h.8M188.2 66.5h.8M193.8 61.5h.8M196.9 63.9h.8M187.6 72.4h.8M186.3 57.9h.8M188.0 64.4h.8M199.2 61.5h.8M187.7 67.9h.8M188.1 65.3h.8M188.0 72.3h.8M186.5 59.5h.8M189.0 61.4h.8M198.0 68.2h.8M199.3 65.6h.8M184.3 70.0h.8M187.8 59.2h.8M191.4 74.5h.8M190.5 62.0h.8M190.8 57.6h.8M199.3 70.4h.8M189.8 70.5h.8M190.6 60.6h.8M195.2 69.6h.8M192.7 71.1h.8M182.9 64.8h.8M190.7 56.2h.8M187.0 72.3h.8M189.9 73.3h.8M185.6 69.0h.8M185.5 68.3h.8M201.3 69.3h.8M202.7 63.9h.8M190.5 57.3h.8M188.4 73.5h.8" stroke="#000" stroke-width="0.8" stroke-opacity="0.35" fill="none"/>
<polygon points="201.33,65.00 201.01,66.27 200.76,67.54 200.34,68.81 199.52,69.91 198.32,70.64 196.95,71.01 195.65,71.23 194.45,71.54 193.20,71.96 191.82,72.23 190.42,72.07 189.21,71.39 188.31,70.39 187.56,69.38 186.68,68.48 185.58,67.57 184.47,66.42 183.80,65.00 183.90,63.48 184.74,62.15 185.97,61.14 187.22,60.36 188.33,59.64 189.43,58.95 190.63,58.47 191.93,58.35 193.20,58.58 194.36,58.91 195.53,59.07 196.92,59.04 198.55,59.10 200.18,59.58 201.36,60.64 201.85,62.09 201.72,63.61" fill="none" stroke="#999" stroke-width="0.55" opacity="0.9"/>
<polygon points="199.52,65.00 198.87,65.92 198.30,66.72 197.86,67.49 197.44,68.29 196.91,69.09 196.18,69.78 195.29,70.32 194.29,70.74 193.20,71.07 192.01,71.24 190.79,71.12 189.70,70.60 188.90,69.74 188.43,68.70 188.15,67.70 187.86,66.80 187.45,65.94 187.02,65.00 186.80,63.96 186.98,62.91 187.56,61.99 188.39,61.27 189.31,60.71 190.22,60.23 191.16,59.82 192.16,59.54 193.20,59.46 194.23,59.59 195.24,59.82 196.28,60.07 197.41,60.36 198.56,60.84 199.52,61.63 200.03,62.70 200.00,63.89" fill="none" stroke="#999" stroke-width="0.55" opacity="0.9"/>
<polygon points="198.08,65.00 197.60,65.72 197.20,66.35 196.97,67.02 196.76,67.76 196.34,68.46 195.64,68.91 194.79,69.05 193.96,68.97 193.20,68.87 192.47,68.84 191.70,68.80 190.96,68.59 190.39,68.10 190.05,67.44 189.85,66.79 189.55,66.23 189.01,65.68 188.34,65.00 187.86,64.13 187.87,63.21 188.43,62.45 189.32,61.99 190.26,61.75 191.06,61.57 191.76,61.35 192.47,61.16 193.20,61.15 193.89,61.37 194.49,61.71 195.07,62.00 195.78,62.16 196.66,62.31 197.58,62.66 198.23,63.31 198.38,64.15" fill="none" stroke="#999" stroke-width="0.55" opacity="0.9"/>
<polygon points="196.02,65.00 196.06,65.47 195.88,65.90 195.54,66.25 195.15,66.52 194.82,66.78 194.51,67.10 194.15,67.43 193.71,67.65 193.20,67.68 192.72,67.53 192.29,67.30 191.88,67.11 191.42,66.96 190.91,66.78 190.46,66.46 190.22,66.00 190.25,65.48 190.45,65.00 190.68,64.59 190.84,64.20 190.95,63.80 191.13,63.39 191.44,63.06 191.86,62.86 192.32,62.77 192.76,62.69 193.20,62.54 193.70,62.37 194.26,62.29 194.80,62.44 195.19,62.80 195.41,63.29 195.52,63.76 195.65,64.18 195.84,64.57" fill="none" stroke="#999" stroke-width="0.55" opacity="0.9"/>
<ellipse cx="42.5" cy="111.8" rx="6.3" ry="8.6" fill="url(#soft)" fill-opacity="0.070"/>
<path d="M40.3 102.9h.8M39.7 105.5h.8M37.0 112.3h.8M43.1 113.1h.8M46.3 112.3h.8M39.7 117.0h.8M48.6 111.9h.8M37.6 108.4h.8M43.5 107.7h.8M41.9 113.8h.8M47.5 111.1h.8M46.3 109.8h.8M37.8 116.5h.8M38.4 117.7h.8M42.5 114.8h.8M42.0 105.5h.8M44.2 109.2h.8M42.1 114.3h.8M39.8 109.0h.8M48.1 113.4h.8M41.3 112.6h.8M41.9 108.5h.8" stroke="#000" stroke-width="0.8" stroke-opacity="0.30" fill="none"/>
<ellipse cx="62.2" cy="111.3" rx="9.6" ry="8.4" fill="url(#soft)" fill-opacity="0.070"/>
<path d="M71.3 106.1h.8M62.4 120.7h.8M57.5 104.9h.8M67.1 106.2h.8M64.0 104.7h.8M72.1 107.1h.8M53.3 114.9h.8M58.8 112.4h.8M62.1 119.5h.8M62.5 109.0h.8M51.2 111.2h.8M57.1 112.7h.8M65.1 110.6h.8M53.1 111.3h.8M61.8 114.0h.8M60.9 103.3h.8M68.8 106.2h.8M69.5 117.1h.8M56.8 119.1h.8M62.3 109.9h.8M63.4 119.9h.8M62.0 111.0h.8M57.6 117.9h.8M62.3 108.3h.8M55.5 105.8h.8M69.6 117.2h.8M66.3 117.0h.8M66.9 117.3h.8M68.9 105.0h.8M69.1 107.5h.8M56.5 119.4h.8" stroke="#000" stroke-width="0.8" stroke-opacity="0.30" fill="none"/>
<ellipse cx="42.4" cy="129.3" rx="7.2" ry="4.4" fill="url(#soft)" fill-opacity="0.168"/>
<path d="M34.5 129.4h.8M39.8 132.3h.8M44.2 133.5h.8M49.6 130.8h.8M35.2 131.0h.8M48.5 127.4h.8M37.2 131.3h.8M44.4 125.5h.8M46.2 124.8h.8M48.5 132.0h.8M47.1 133.1h.8M43.5 133.8h.8M44.7 129.2h.8M40.5 127.8h.8M47.3 126.6h.8M44.9 132.1h.8M45.6 129.5h.8M39.4 127.0h.8M37.2 130.8h.8M45.5 133.8h.8M39.6 133.6h.8M49.2 127.2h.8M49.9 130.5h.8M39.6 127.1h.8M42.8 129.2h.8M43.0 129.0h.8M46.5 126.8h.8M37.4 130.1h.8M38.1 127.6h.8" stroke="#000" stroke-width="0.8" stroke-opacity="0.37" fill="none"/>
<ellipse cx="62.5" cy="128.0" rx="10.0" ry="8.0" fill="url(#soft)" fill-opacity="0.168"/>
<path d="M59.2 128.5h.8M72.8 130.6h.8M60.5 126.3h.8M56.4 127.5h.8M61.0 131.4h.8M68.5 129.0h.8M65.7 136.1h.8M71.8 123.4h.8M63.4 137.2h.8M63.1 122.3h.8M54.5 128.9h.8M57.3 132.0h.8M67.7 124.7h.8M68.6 130.7h.8M67.2 127.2h.8M60.9 120.8h.8M61.9 136.4h.8M52.6 123.8h.8M67.0 126.9h.8M53.9 126.6h.8M64.2 132.5h.8M60.3 130.8h.8M66.7 130.1h.8M61.9 119.1h.8M52.7 126.0h.8M61.8 120.7h.8M62.2 129.6h.8M53.8 124.4h.8M56.1 134.7h.8M62.7 126.4h.8M60.2 135.1h.8M56.9 133.4h.8M67.3 127.1h.8M59.4 126.8h.8M61.4 124.6h.8M65.3 126.4h.8M58.0 133.0h.8M61.5 127.5h.8M71.2 127.2h.8M59.6 135.3h.8M60.2 131.1h.8M68.0 124.3h.8M66.1 131.1h.8M61.0 130.8h.8M56.2 133.0h.8M63.4 136.8h.8M58.9 131.9h.8M51.4 126.5h.8M68.6 123.6h.8M65.1 122.9h.8M52.4 129.5h.8M69.9 134.2h.8M60.0 129.7h.8M67.4 132.8h.8M68.2 129.5h.8M56.8 131.8h.8M63.9 128.8h.8M69.0 124.8h.8M57.3 129.2h.8M63.2 127.9h.8M54.8 130.3h.8M71.5 131.0h.8M57.7 133.6h.8M60.7 121.5h.8M64.9 127.3h.8M63.2 137.0h.8M64.1 136.3h.8M59.1 132.8h.8M52.7 124.3h.8M66.9 131.5h.8" stroke="#000" stroke-width="0.8" stroke-opacity="0.37" fill="none"/>
<polygon points="71.74,128.00 71.79,129.32 71.64,130.68 71.08,131.99 69.97,133.03 68.39,133.62 66.67,133.73 65.11,133.62 63.82,133.61 62.60,133.88 61.24,134.29 59.69,134.51 58.14,134.29 56.81,133.61 55.80,132.65 54.98,131.58 54.23,130.48 53.63,129.29 53.37,128.00 53.65,126.72 54.42,125.58 55.42,124.62 56.37,123.75 57.24,122.80 58.21,121.80 59.46,120.98 61.00,120.61 62.60,120.83 64.01,121.48 65.19,122.21 66.29,122.79 67.52,123.23 68.86,123.72 70.11,124.47 71.03,125.50 71.53,126.72" fill="none" stroke="#888" stroke-width="0.5" opacity="0.9"/>
<polygon points="68.96,128.00 69.01,128.92 69.01,129.90 68.73,130.88 67.95,131.65 66.76,132.04 65.48,132.05 64.38,131.98 63.49,132.11 62.60,132.54 61.51,133.03 60.27,133.22 59.13,132.89 58.35,132.12 57.91,131.20 57.57,130.37 57.12,129.62 56.60,128.86 56.28,128.00 56.39,127.11 56.89,126.31 57.52,125.61 58.06,124.90 58.52,124.05 59.14,123.12 60.10,122.41 61.35,122.22 62.60,122.64 63.60,123.39 64.35,124.09 65.09,124.49 66.03,124.67 67.12,124.91 68.10,125.41 68.71,126.19 68.92,127.09" fill="none" stroke="#888" stroke-width="0.5" opacity="0.9"/>
<polygon points="66.29,128.00 65.80,128.46 65.53,128.87 65.47,129.35 65.40,129.91 65.11,130.43 64.56,130.76 63.89,130.88 63.23,130.90 62.60,130.97 61.93,131.09 61.20,131.14 60.50,130.96 59.99,130.53 59.73,129.96 59.57,129.43 59.30,128.98 58.85,128.54 58.39,128.00 58.19,127.37 58.45,126.77 59.10,126.36 59.87,126.14 60.52,125.99 61.01,125.76 61.45,125.42 61.97,125.10 62.60,124.96 63.24,125.03 63.85,125.21 64.46,125.37 65.18,125.50 65.98,125.69 66.66,126.09 66.96,126.71 66.78,127.40" fill="none" stroke="#888" stroke-width="0.5" opacity="0.9"/>
<ellipse cx="64.6" cy="128.2" rx="3.8" ry="5.8" fill="url(#soft2)" fill-opacity="0.950"/>
<ellipse cx="64.6" cy="128.2" rx="2.2" ry="4.0" fill="none" stroke="#000" stroke-width="1.4" opacity="1"/>
<ellipse cx="105.2" cy="116.6" rx="8.4" ry="7.2" fill="url(#soft)" fill-opacity="0.252"/>
<path d="M111.5 114.6h.8M100.8 114.3h.8M105.9 108.7h.8M102.8 119.2h.8M98.4 113.5h.8M100.4 111.3h.8M110.9 120.6h.8M100.6 116.4h.8M111.4 122.6h.8M99.6 120.0h.8M109.1 113.9h.8M112.5 111.9h.8M104.7 113.5h.8M104.1 121.8h.8M106.6 118.4h.8M99.8 118.6h.8M102.1 115.6h.8M103.9 122.0h.8M113.2 119.5h.8M98.9 114.2h.8M109.2 111.9h.8M99.9 114.4h.8M100.0 120.2h.8M96.5 119.8h.8M106.0 118.0h.8M107.1 122.6h.8M98.9 112.8h.8M108.4 119.8h.8M101.8 116.1h.8M101.1 117.6h.8M102.4 114.3h.8M100.3 113.2h.8M101.5 118.1h.8M100.7 110.2h.8M111.9 116.1h.8M105.4 113.5h.8M112.7 120.8h.8M107.6 119.2h.8M108.9 116.6h.8M103.5 114.8h.8M105.3 116.1h.8M105.8 117.1h.8M110.8 123.1h.8M110.9 118.6h.8M101.1 111.5h.8M112.3 122.2h.8M108.7 119.8h.8M109.9 115.8h.8M103.2 117.5h.8M97.0 112.4h.8M114.3 117.3h.8M105.5 113.5h.8M112.2 116.9h.8M98.4 114.8h.8M107.9 110.2h.8M106.4 123.9h.8M104.0 120.9h.8M107.0 118.0h.8M98.9 116.0h.8M112.9 119.5h.8M99.7 115.7h.8M106.0 113.9h.8M106.7 118.8h.8M108.2 111.9h.8M102.0 124.2h.8M106.3 110.0h.8M107.8 112.7h.8M111.3 120.3h.8M98.3 111.7h.8M104.7 124.2h.8M101.7 112.6h.8M111.5 111.4h.8M107.8 118.5h.8M106.4 114.7h.8M111.5 112.5h.8M109.4 111.4h.8M105.1 124.4h.8M100.2 112.9h.8M113.3 119.5h.8" stroke="#000" stroke-width="0.8" stroke-opacity="0.43" fill="none"/>
<polygon points="112.59,116.60 112.46,117.70 112.24,118.81 111.75,119.86 110.90,120.72 109.79,121.31 108.62,121.71 107.52,122.09 106.42,122.54 105.20,122.94 103.88,123.04 102.65,122.64 101.70,121.82 101.06,120.85 100.52,119.98 99.82,119.28 98.87,118.58 97.91,117.71 97.28,116.60 97.21,115.39 97.64,114.23 98.37,113.20 99.22,112.28 100.19,111.46 101.35,110.86 102.68,110.63 104.02,110.85 105.20,111.32 106.19,111.75 107.18,111.91 108.37,111.87 109.77,111.91 111.15,112.30 112.16,113.14 112.63,114.27 112.69,115.46" fill="none" stroke="#777" stroke-width="0.5" opacity="0.9"/>
<polygon points="109.61,116.60 109.72,117.29 109.51,117.95 108.95,118.47 108.22,118.78 107.54,119.00 107.02,119.31 106.55,119.79 105.97,120.37 105.20,120.79 104.32,120.90 103.48,120.66 102.77,120.23 102.14,119.74 101.53,119.25 101.01,118.68 100.71,118.01 100.78,117.27 101.16,116.60 101.62,116.06 101.92,115.57 102.01,115.01 102.04,114.32 102.26,113.59 102.80,113.02 103.57,112.75 104.41,112.74 105.20,112.81 105.97,112.84 106.78,112.86 107.62,112.99 108.34,113.37 108.82,113.98 109.05,114.68 109.19,115.35 109.38,115.97" fill="none" stroke="#777" stroke-width="0.5" opacity="0.9"/>
<ellipse cx="105.6" cy="117.2" rx="3.7" ry="3.2" fill="none" stroke="#111" stroke-width="2.0" opacity="1"/>
<ellipse cx="125.3" cy="114.8" rx="5.8" ry="6.4" fill="url(#soft)" fill-opacity="0.084"/>
<path d="M121.8 111.7h.8M129.9 117.8h.8M127.0 113.1h.8M128.2 114.7h.8M119.4 114.7h.8M123.8 115.3h.8M131.7 112.9h.8M123.0 109.6h.8M126.5 120.9h.8M121.0 114.8h.8M125.3 118.7h.8M126.2 111.0h.8M121.2 118.1h.8M124.9 119.9h.8M126.9 118.4h.8M128.8 118.1h.8M120.6 109.8h.8M130.3 113.0h.8" stroke="#000" stroke-width="0.8" stroke-opacity="0.31" fill="none"/>
<ellipse cx="125.5" cy="116.0" rx="3.2" ry="3.2" fill="none" stroke="#777" stroke-width="0.9" opacity="1"/>
<ellipse cx="106.8" cy="127.8" rx="6.5" ry="2.5" fill="url(#soft)" fill-opacity="0.112"/>
<path d="M112.0 128.4h.8M101.0 126.6h.8M102.2 125.6h.8M102.3 128.6h.8M101.8 125.9h.8M107.3 127.1h.8M101.6 128.2h.8M106.9 127.2h.8M106.4 125.2h.8M108.5 126.0h.8M112.6 128.3h.8M105.2 128.0h.8" stroke="#000" stroke-width="0.8" stroke-opacity="0.33" fill="none"/>
<ellipse cx="125.5" cy="128.2" rx="9.2" ry="7.4" fill="url(#soft)" fill-opacity="0.210"/>
<path d="M123.0 131.7h.8M122.8 131.7h.8M120.9 124.7h.8M130.8 133.0h.8M129.7 135.4h.8M118.8 126.4h.8M133.0 132.7h.8M130.6 134.4h.8M122.6 130.0h.8M127.1 134.8h.8M128.8 136.0h.8M118.0 126.6h.8M126.9 121.9h.8M128.2 124.5h.8M121.8 130.0h.8M119.0 127.3h.8M120.5 125.9h.8M129.6 122.9h.8M132.9 123.1h.8M126.7 125.5h.8M128.4 120.8h.8M130.1 123.6h.8M125.1 132.0h.8M123.8 125.1h.8M123.3 125.0h.8M130.6 127.6h.8M129.4 122.3h.8M119.2 130.2h.8M123.7 122.8h.8M130.4 129.4h.8M129.2 136.2h.8M115.7 127.5h.8M132.4 131.3h.8M126.5 134.3h.8M122.8 121.6h.8M128.5 120.1h.8M126.2 121.9h.8M127.7 133.7h.8M122.2 121.7h.8M129.1 132.1h.8M133.6 129.1h.8M127.2 134.4h.8M121.0 132.9h.8M128.3 127.7h.8M115.1 127.8h.8M120.5 129.9h.8M125.7 128.4h.8M127.8 131.3h.8M121.1 127.4h.8M125.6 133.4h.8M123.3 135.4h.8M125.2 126.5h.8M125.1 125.8h.8M123.4 121.0h.8M129.3 122.3h.8M118.1 126.9h.8M127.7 132.7h.8M124.3 124.7h.8M122.7 134.8h.8M133.7 127.9h.8M133.8 132.4h.8M116.3 131.2h.8M119.4 127.3h.8M127.7 120.6h.8M134.7 125.4h.8M118.0 133.0h.8M128.7 127.7h.8M134.0 133.1h.8M127.7 127.7h.8M121.3 135.3h.8M119.3 130.6h.8M135.0 130.2h.8M121.7 132.0h.8M134.0 133.2h.8" stroke="#000" stroke-width="0.8" stroke-opacity="0.40" fill="none"/>
<polygon points="133.62,128.40 133.65,129.51 133.47,130.63 132.92,131.69 132.00,132.56 130.85,133.21 129.66,133.75 128.49,134.32 127.24,134.92 125.80,135.37 124.25,135.42 122.83,134.94 121.73,134.04 120.98,132.99 120.38,132.04 119.73,131.21 118.97,130.39 118.30,129.46 117.93,128.40 117.94,127.29 118.24,126.20 118.68,125.11 119.26,124.01 120.09,122.95 121.28,122.14 122.79,121.78 124.37,121.90 125.80,122.32 127.04,122.77 128.23,123.07 129.51,123.26 130.86,123.57 132.08,124.19 132.93,125.11 133.37,126.20 133.54,127.31" fill="none" stroke="#777" stroke-width="0.5" opacity="0.9"/>
<polygon points="131.42,128.40 131.76,129.24 131.70,130.12 131.14,130.87 130.24,131.38 129.30,131.74 128.48,132.11 127.72,132.61 126.85,133.17 125.80,133.54 124.67,133.52 123.67,133.09 122.87,132.45 122.22,131.81 121.58,131.23 120.94,130.64 120.46,129.95 120.32,129.17 120.53,128.40 120.88,127.71 121.11,127.03 121.16,126.26 121.22,125.33 121.58,124.37 122.38,123.66 123.52,123.38 124.72,123.48 125.80,123.77 126.77,124.02 127.71,124.19 128.67,124.43 129.51,124.87 130.09,125.52 130.41,126.27 130.64,126.99 130.97,127.67" fill="none" stroke="#777" stroke-width="0.5" opacity="0.9"/>
<polygon points="128.90,128.40 128.62,128.80 128.56,129.20 128.60,129.69 128.52,130.22 128.18,130.67 127.63,130.94 127.00,131.05 126.39,131.10 125.80,131.18 125.17,131.27 124.51,131.24 123.91,131.02 123.47,130.62 123.17,130.17 122.89,129.75 122.50,129.36 122.05,128.93 121.72,128.40 121.75,127.83 122.17,127.34 122.83,127.03 123.48,126.84 123.97,126.66 124.34,126.37 124.71,126.01 125.20,125.70 125.80,125.54 126.43,125.56 127.04,125.66 127.69,125.78 128.39,125.94 129.05,126.22 129.49,126.70 129.57,127.30 129.30,127.91" fill="none" stroke="#777" stroke-width="0.5" opacity="0.9"/>
<ellipse cx="126.0" cy="129.1" rx="2.4" ry="3.9" fill="none" stroke="#000" stroke-width="1.8" opacity="1"/>
<ellipse cx="171.2" cy="112.0" rx="10.4" ry="8.6" fill="url(#soft)" fill-opacity="0.182"/>
<path d="M160.2 112.1h.8M162.6 112.9h.8M165.2 113.0h.8M166.8 105.4h.8M177.0 117.1h.8M167.3 110.4h.8M175.9 116.5h.8M170.3 104.4h.8M179.0 111.9h.8M174.7 109.3h.8M168.1 105.6h.8M182.6 114.1h.8M162.3 116.0h.8M173.5 114.2h.8M177.7 114.1h.8M169.0 114.9h.8M168.2 110.2h.8M168.0 114.9h.8M167.7 109.1h.8M179.5 117.9h.8M175.4 118.8h.8M168.5 114.8h.8M165.2 108.3h.8M161.6 117.9h.8M181.3 108.1h.8M168.3 104.4h.8M162.6 114.7h.8M165.3 117.1h.8M164.6 119.5h.8M167.7 111.5h.8M164.1 107.9h.8M169.4 107.6h.8M174.5 118.0h.8M167.0 105.9h.8M178.2 114.0h.8M159.6 111.1h.8M173.6 108.4h.8M160.1 110.4h.8M167.7 121.3h.8M167.8 120.4h.8M180.0 113.5h.8M162.3 118.1h.8M161.4 113.1h.8M169.1 105.2h.8M183.0 113.5h.8M177.4 114.9h.8M170.6 117.5h.8M175.3 105.2h.8M171.9 110.3h.8M171.6 116.2h.8M175.7 113.4h.8M178.1 118.4h.8M182.2 108.2h.8M169.7 111.3h.8M172.7 107.6h.8M177.9 108.7h.8M179.5 118.0h.8M160.9 107.4h.8M177.6 113.8h.8M175.2 110.3h.8M171.7 106.1h.8M170.3 107.2h.8M175.4 104.2h.8M162.5 106.0h.8M172.0 113.6h.8M179.2 109.6h.8M163.0 118.4h.8M177.3 118.3h.8M164.8 119.9h.8M181.0 111.5h.8M162.3 109.1h.8M165.0 114.9h.8M176.5 117.5h.8M169.7 111.1h.8M170.4 109.4h.8M170.1 115.7h.8M176.3 108.6h.8M172.8 105.0h.8M160.3 109.8h.8M167.8 102.8h.8M161.1 110.5h.8M168.1 108.3h.8M162.5 113.8h.8M179.3 109.7h.8" stroke="#000" stroke-width="0.8" stroke-opacity="0.38" fill="none"/>
<polygon points="180.48,112.40 180.87,113.80 180.49,115.18 179.22,116.21 177.48,116.73 175.87,116.98 174.71,117.40 173.80,118.26 172.70,119.41 171.20,120.33 169.45,120.58 167.79,120.11 166.39,119.25 165.13,118.35 163.82,117.49 162.56,116.50 161.75,115.23 161.77,113.77 162.60,112.40 163.71,111.31 164.47,110.39 164.69,109.31 164.72,107.93 165.14,106.46 166.26,105.36 167.90,104.95 169.64,105.11 171.20,105.43 172.67,105.54 174.27,105.47 176.00,105.56 177.56,106.17 178.60,107.29 179.09,108.65 179.38,109.95 179.84,111.15" fill="none" stroke="#666" stroke-width="0.55" opacity="0.9"/>
<polygon points="178.04,112.40 177.57,113.32 177.04,114.15 176.66,114.99 176.34,115.94 175.83,116.93 174.93,117.71 173.70,118.05 172.39,117.93 171.20,117.54 170.19,117.13 169.24,116.82 168.29,116.55 167.39,116.14 166.66,115.53 166.13,114.80 165.68,114.05 165.10,113.28 164.40,112.40 163.83,111.33 163.74,110.17 164.34,109.14 165.51,108.47 166.88,108.17 168.14,108.04 169.19,107.87 170.17,107.60 171.20,107.37 172.28,107.37 173.29,107.67 174.18,108.16 175.01,108.67 175.91,109.15 176.89,109.70 177.72,110.45 178.15,111.39" fill="none" stroke="#666" stroke-width="0.55" opacity="0.9"/>
<polygon points="175.31,112.40 174.82,112.92 174.26,113.32 173.86,113.66 173.67,114.10 173.55,114.70 173.26,115.33 172.70,115.80 171.96,115.95 171.20,115.84 170.51,115.62 169.85,115.45 169.15,115.31 168.44,115.10 167.84,114.71 167.50,114.16 167.41,113.54 167.41,112.95 167.35,112.40 167.24,111.83 167.23,111.21 167.52,110.65 168.12,110.28 168.88,110.13 169.58,110.09 170.12,109.97 170.61,109.65 171.20,109.22 171.95,108.90 172.77,108.86 173.50,109.13 174.07,109.59 174.54,110.10 174.98,110.61 175.35,111.16 175.50,111.78" fill="none" stroke="#666" stroke-width="0.55" opacity="0.9"/>
<ellipse cx="172.6" cy="110.0" rx="7.0" ry="4.2" fill="url(#soft2)" fill-opacity="0.920"/>
<line x1="168" y1="110.3" x2="177" y2="110.3" stroke="#888" stroke-width="0.6"/>
<ellipse cx="194.0" cy="112.4" rx="5.8" ry="4.4" fill="url(#soft)" fill-opacity="0.084"/>
<path d="M190.4 114.7h.8M189.9 110.5h.8M197.6 114.8h.8M191.4 111.9h.8M192.1 112.1h.8M197.9 110.0h.8M195.3 117.0h.8M198.1 108.6h.8M191.4 111.8h.8M198.5 114.2h.8M190.0 116.4h.8M198.9 112.5h.8M188.0 110.2h.8" stroke="#000" stroke-width="0.8" stroke-opacity="0.31" fill="none"/>
<polygon points="197.31,112.40 197.11,112.86 196.61,113.20 196.15,113.45 195.95,113.78 195.94,114.35 195.84,115.08 195.43,115.71 194.75,115.97 194.00,115.81 193.37,115.43 192.85,115.08 192.33,114.84 191.80,114.61 191.43,114.22 191.40,113.66 191.73,113.10 192.13,112.68 192.24,112.40 191.90,112.09 191.31,111.57 190.87,110.88 190.91,110.21 191.41,109.80 192.12,109.65 192.80,109.61 193.39,109.49 194.00,109.28 194.67,109.19 195.29,109.41 195.68,109.94 195.80,110.59 195.84,111.10 196.05,111.40 196.53,111.62 197.06,111.94" fill="none" stroke="#333" stroke-width="0.9" opacity="1"/>
<ellipse cx="169.8" cy="127.8" rx="5.6" ry="3.4" fill="url(#soft)" fill-opacity="0.084"/>
<path d="M167.1 127.2h.8M175.5 128.5h.8M166.5 129.6h.8M167.7 125.7h.8M168.7 128.2h.8M168.5 128.3h.8M172.0 126.5h.8M169.7 126.8h.8M167.2 126.2h.8M169.6 124.0h.8M174.7 126.7h.8" stroke="#000" stroke-width="0.8" stroke-opacity="0.31" fill="none"/>
<ellipse cx="195" cy="128" rx="8" ry="6" fill="url(#soft)" fill-opacity="0.035"/>
<path d="M194.0 128.4h.8M200.3 128.8h.8M194.9 125.8h.8M199.6 128.0h.8M200.4 132.6h.8M202.2 131.1h.8M198.2 127.5h.8M195.6 129.1h.8M195.5 132.4h.8M199.6 129.6h.8M196.8 133.6h.8" stroke="#000" stroke-width="0.8" stroke-opacity="0.28" fill="none"/>
<line x1="32.5" y1="75.6" x2="92.4" y2="75.6" stroke="#b8b8b8" stroke-width="1.0" stroke-dasharray="2 1.2"/>
<rect x="31.50" y="19.20" width="61.90" height="55.40" fill="none" stroke="#a5a5a5" stroke-width="0.8" />
<line x1="50.9" y1="19.2" x2="50.9" y2="74.6" stroke="#000" stroke-width="1.3" />
<polyline points="31.5,61.3 50.9,61.3 93.4,49.4" fill="none" stroke="#000" stroke-width="1.3"/>
<line x1="97.2" y1="75.6" x2="156.7" y2="75.6" stroke="#b8b8b8" stroke-width="1.0" stroke-dasharray="2 1.2"/>
<rect x="96.20" y="19.40" width="61.50" height="55.20" fill="none" stroke="#a5a5a5" stroke-width="0.8" />
<line x1="115.3" y1="19.4" x2="115.3" y2="74.6" stroke="#000" stroke-width="1.3" />
<polyline points="96.2,62.1 115.3,62.1 157.7,50.6" fill="none" stroke="#000" stroke-width="1.3"/>
<line x1="161.8" y1="75.6" x2="222.0" y2="75.6" stroke="#b8b8b8" stroke-width="1.0" stroke-dasharray="2 1.2"/>
<rect x="160.80" y="18.90" width="62.20" height="55.70" fill="none" stroke="#a5a5a5" stroke-width="0.8" />
<line x1="181.4" y1="18.9" x2="181.4" y2="74.6" stroke="#000" stroke-width="1.3" />
<polyline points="160.8,60.3 181.4,60.3 223.0,48.7" fill="none" stroke="#000" stroke-width="1.3"/>
<line x1="32.8" y1="138.0" x2="92.5" y2="138.0" stroke="#b8b8b8" stroke-width="1.0" stroke-dasharray="2 1.2"/>
<rect x="31.80" y="81.30" width="61.70" height="55.70" fill="none" stroke="#a5a5a5" stroke-width="0.8" />
<line x1="51.1" y1="81.3" x2="51.1" y2="137.0" stroke="#000" stroke-width="1.3" />
<polyline points="31.8,123.8 51.1,123.8 93.5,112.0" fill="none" stroke="#000" stroke-width="1.3"/>
<line x1="97.4" y1="138.0" x2="157.2" y2="138.0" stroke="#b8b8b8" stroke-width="1.0" stroke-dasharray="2 1.2"/>
<rect x="96.40" y="81.30" width="61.80" height="55.70" fill="none" stroke="#a5a5a5" stroke-width="0.8" />
<line x1="115.3" y1="81.3" x2="115.3" y2="137.0" stroke="#000" stroke-width="1.3" />
<polyline points="96.4,124.3 115.3,124.3 158.2,113.0" fill="none" stroke="#000" stroke-width="1.3"/>
<line x1="161.5" y1="138.0" x2="222.2" y2="138.0" stroke="#b8b8b8" stroke-width="1.0" stroke-dasharray="2 1.2"/>
<rect x="160.50" y="81.10" width="62.70" height="55.90" fill="none" stroke="#a5a5a5" stroke-width="0.8" />
<line x1="181.6" y1="81.1" x2="181.6" y2="137.0" stroke="#000" stroke-width="1.3" />
<polyline points="160.5,123.1 181.6,123.1 223.2,111.1" fill="none" stroke="#000" stroke-width="1.3"/>
<text x="294.0" y="8.8" font-size="11.2" fill="#000" color="#000" text-anchor="start" font-weight="bold" textLength="6.7" lengthAdjust="spacingAndGlyphs" >B</text>
<line x1="353.3" y1="11.4" x2="353.3" y2="121" stroke="#000" stroke-width="1.1" />
<line x1="351.3" y1="11.4" x2="353.3" y2="11.4" stroke="#000" stroke-width="0.9" />
<text x="346.6" y="14.7" font-size="9.4" fill="#000" color="#000" text-anchor="end" textLength="15.2" lengthAdjust="spacingAndGlyphs" >100</text>
<line x1="351.3" y1="33.0" x2="353.3" y2="33.0" stroke="#000" stroke-width="0.9" />
<text x="346.6" y="36.0" font-size="9.4" fill="#000" color="#000" text-anchor="end" textLength="11.5" lengthAdjust="spacingAndGlyphs" >80</text>
<line x1="351.3" y1="55.1" x2="353.3" y2="55.1" stroke="#000" stroke-width="0.9" />
<text x="346.6" y="58.4" font-size="9.4" fill="#000" color="#000" text-anchor="end" textLength="11.5" lengthAdjust="spacingAndGlyphs" >60</text>
<line x1="351.3" y1="76.6" x2="353.3" y2="76.6" stroke="#000" stroke-width="0.9" />
<text x="346.6" y="78.6" font-size="9.4" fill="#000" color="#000" text-anchor="end" textLength="11.5" lengthAdjust="spacingAndGlyphs" >40</text>
<line x1="351.3" y1="94.8" x2="353.3" y2="94.8" stroke="#000" stroke-width="0.9" />
<text x="346.6" y="97.1" font-size="9.4" fill="#000" color="#000" text-anchor="end" textLength="11.5" lengthAdjust="spacingAndGlyphs" >20</text>
<text x="317.8" y="58.0" font-size="11.2" fill="#000" color="#000" text-anchor="middle" textLength="105.5" lengthAdjust="spacingAndGlyphs" transform="rotate(-90 317.8 58.0)" >% of CD56dim NK cells</text>
<rect x="353.30" y="115.40" width="79.10" height="5.50" fill="#27287f" stroke="none" stroke-width="0" />
<rect x="353.30" y="120.90" width="39.55" height="5.20" fill="#a23ca3" stroke="none" stroke-width="0" />
<rect x="432.40" y="120.90" width="39.55" height="5.20" fill="#a23ca3" stroke="none" stroke-width="0" />
<rect x="353.30" y="126.10" width="19.77" height="5.70" fill="#d6282c" stroke="none" stroke-width="0" />
<rect x="392.85" y="126.10" width="19.77" height="5.70" fill="#d6282c" stroke="none" stroke-width="0" />
<rect x="432.40" y="126.10" width="19.77" height="5.70" fill="#d6282c" stroke="none" stroke-width="0" />
<rect x="471.95" y="126.10" width="19.77" height="5.70" fill="#d6282c" stroke="none" stroke-width="0" />
<rect x="353.30" y="131.80" width="9.89" height="5.60" fill="#4b6fc2" stroke="none" stroke-width="0" />
<rect x="373.07" y="131.80" width="9.89" height="5.60" fill="#4b6fc2" stroke="none" stroke-width="0" />
<rect x="392.85" y="131.80" width="9.89" height="5.60" fill="#4b6fc2" stroke="none" stroke-width="0" />
<rect x="412.62" y="131.80" width="9.89" height="5.60" fill="#4b6fc2" stroke="none" stroke-width="0" />
<rect x="432.40" y="131.80" width="9.89" height="5.60" fill="#4b6fc2" stroke="none" stroke-width="0" />
<rect x="452.18" y="131.80" width="9.89" height="5.60" fill="#4b6fc2" stroke="none" stroke-width="0" />
<rect x="471.95" y="131.80" width="9.89" height="5.60" fill="#4b6fc2" stroke="none" stroke-width="0" />
<rect x="491.73" y="131.80" width="9.89" height="5.60" fill="#4b6fc2" stroke="none" stroke-width="0" />
<rect x="353.30" y="137.40" width="4.94" height="5.60" fill="#e87b33" stroke="none" stroke-width="0" />
<rect x="363.19" y="137.40" width="4.94" height="5.60" fill="#e87b33" stroke="none" stroke-width="0" />
<rect x="373.07" y="137.40" width="4.94" height="5.60" fill="#e87b33" stroke="none" stroke-width="0" />
<rect x="382.96" y="137.40" width="4.94" height="5.60" fill="#e87b33" stroke="none" stroke-width="0" />
<rect x="392.85" y="137.40" width="4.94" height="5.60" fill="#e87b33" stroke="none" stroke-width="0" />
<rect x="402.74" y="137.40" width="4.94" height="5.60" fill="#e87b33" stroke="none" stroke-width="0" />
<rect x="412.62" y="137.40" width="4.94" height="5.60" fill="#e87b33" stroke="none" stroke-width="0" />
<rect x="422.51" y="137.40" width="4.94" height="5.60" fill="#e87b33" stroke="none" stroke-width="0" />
<rect x="432.40" y="137.40" width="4.94" height="5.60" fill="#e87b33" stroke="none" stroke-width="0" />
<rect x="442.29" y="137.40" width="4.94" height="5.60" fill="#e87b33" stroke="none" stroke-width="0" />
<rect x="452.18" y="137.40" width="4.94" height="5.60" fill="#e87b33" stroke="none" stroke-width="0" />
<rect x="462.06" y="137.40" width="4.94" height="5.60" fill="#e87b33" stroke="none" stroke-width="0" />
<rect x="471.95" y="137.40" width="4.94" height="5.60" fill="#e87b33" stroke="none" stroke-width="0" />
<rect x="481.84" y="137.40" width="4.94" height="5.60" fill="#e87b33" stroke="none" stroke-width="0" />
<rect x="491.73" y="137.40" width="4.94" height="5.60" fill="#e87b33" stroke="none" stroke-width="0" />
<rect x="501.61" y="137.40" width="4.94" height="5.60" fill="#e87b33" stroke="none" stroke-width="0" />
<rect x="353.30" y="143.00" width="2.47" height="5.30" fill="#168a47" stroke="none" stroke-width="0" />
<rect x="358.24" y="143.00" width="2.47" height="5.30" fill="#168a47" stroke="none" stroke-width="0" />
<rect x="363.19" y="143.00" width="2.47" height="5.30" fill="#168a47" stroke="none" stroke-width="0" />
<rect x="368.13" y="143.00" width="2.47" height="5.30" fill="#168a47" stroke="none" stroke-width="0" />
<rect x="373.07" y="143.00" width="2.47" height="5.30" fill="#168a47" stroke="none" stroke-width="0" />
<rect x="378.02" y="143.00" width="2.47" height="5.30" fill="#168a47" stroke="none" stroke-width="0" />
<rect x="382.96" y="143.00" width="2.47" height="5.30" fill="#168a47" stroke="none" stroke-width="0" />
<rect x="387.91" y="143.00" width="2.47" height="5.30" fill="#168a47" stroke="none" stroke-width="0" />
<rect x="392.85" y="143.00" width="2.47" height="5.30" fill="#168a47" stroke="none" stroke-width="0" />
<rect x="397.79" y="143.00" width="2.47" height="5.30" fill="#168a47" stroke="none" stroke-width="0" />
<rect x="402.74" y="143.00" width="2.47" height="5.30" fill="#168a47" stroke="none" stroke-width="0" />
<rect x="407.68" y="143.00" width="2.47" height="5.30" fill="#168a47" stroke="none" stroke-width="0" />
<rect x="412.62" y="143.00" width="2.47" height="5.30" fill="#168a47" stroke="none" stroke-width="0" />
<rect x="417.57" y="143.00" width="2.47" height="5.30" fill="#168a47" stroke="none" stroke-width="0" />
<rect x="422.51" y="143.00" width="2.47" height="5.30" fill="#168a47" stroke="none" stroke-width="0" />
<rect x="427.46" y="143.00" width="2.47" height="5.30" fill="#168a47" stroke="none" stroke-width="0" />
<rect x="432.40" y="143.00" width="2.47" height="5.30" fill="#168a47" stroke="none" stroke-width="0" />
<rect x="437.34" y="143.00" width="2.47" height="5.30" fill="#168a47" stroke="none" stroke-width="0" />
<rect x="442.29" y="143.00" width="2.47" height="5.30" fill="#168a47" stroke="none" stroke-width="0" />
<rect x="447.23" y="143.00" width="2.47" height="5.30" fill="#168a47" stroke="none" stroke-width="0" />
<rect x="452.18" y="143.00" width="2.47" height="5.30" fill="#168a47" stroke="none" stroke-width="0" />
<rect x="457.12" y="143.00" width="2.47" height="5.30" fill="#168a47" stroke="none" stroke-width="0" />
<rect x="462.06" y="143.00" width="2.47" height="5.30" fill="#168a47" stroke="none" stroke-width="0" />
<rect x="467.01" y="143.00" width="2.47" height="5.30" fill="#168a47" stroke="none" stroke-width="0" />
<rect x="471.95" y="143.00" width="2.47" height="5.30" fill="#168a47" stroke="none" stroke-width="0" />
<rect x="476.89" y="143.00" width="2.47" height="5.30" fill="#168a47" stroke="none" stroke-width="0" />
<rect x="481.84" y="143.00" width="2.47" height="5.30" fill="#168a47" stroke="none" stroke-width="0" />
<rect x="486.78" y="143.00" width="2.47" height="5.30" fill="#168a47" stroke="none" stroke-width="0" />
<rect x="491.73" y="143.00" width="2.47" height="5.30" fill="#168a47" stroke="none" stroke-width="0" />
<rect x="496.67" y="143.00" width="2.47" height="5.30" fill="#168a47" stroke="none" stroke-width="0" />
<rect x="501.61" y="143.00" width="2.47" height="5.30" fill="#168a47" stroke="none" stroke-width="0" />
<rect x="506.56" y="143.00" width="2.47" height="5.30" fill="#168a47" stroke="none" stroke-width="0" />
<rect x="353.30" y="148.30" width="1.24" height="5.60" fill="#2f2528" stroke="none" stroke-width="0" />
<rect x="355.77" y="148.30" width="1.24" height="5.60" fill="#2f2528" stroke="none" stroke-width="0" />
<rect x="358.24" y="148.30" width="1.24" height="5.60" fill="#2f2528" stroke="none" stroke-width="0" />
<rect x="360.72" y="148.30" width="1.24" height="5.60" fill="#2f2528" stroke="none" stroke-width="0" />
<rect x="363.19" y="148.30" width="1.24" height="5.60" fill="#2f2528" stroke="none" stroke-width="0" />
<rect x="365.66" y="148.30" width="1.24" height="5.60" fill="#2f2528" stroke="none" stroke-width="0" />
<rect x="368.13" y="148.30" width="1.24" height="5.60" fill="#2f2528" stroke="none" stroke-width="0" />
<rect x="370.60" y="148.30" width="1.24" height="5.60" fill="#2f2528" stroke="none" stroke-width="0" />
<rect x="373.07" y="148.30" width="1.24" height="5.60" fill="#2f2528" stroke="none" stroke-width="0" />
<rect x="375.55" y="148.30" width="1.24" height="5.60" fill="#2f2528" stroke="none" stroke-width="0" />
<rect x="378.02" y="148.30" width="1.24" height="5.60" fill="#2f2528" stroke="none" stroke-width="0" />
<rect x="380.49" y="148.30" width="1.24" height="5.60" fill="#2f2528" stroke="none" stroke-width="0" />
<rect x="382.96" y="148.30" width="1.24" height="5.60" fill="#2f2528" stroke="none" stroke-width="0" />
<rect x="385.43" y="148.30" width="1.24" height="5.60" fill="#2f2528" stroke="none" stroke-width="0" />
<rect x="387.91" y="148.30" width="1.24" height="5.60" fill="#2f2528" stroke="none" stroke-width="0" />
<rect x="390.38" y="148.30" width="1.24" height="5.60" fill="#2f2528" stroke="none" stroke-width="0" />
<rect x="392.85" y="148.30" width="1.24" height="5.60" fill="#2f2528" stroke="none" stroke-width="0" />
<rect x="395.32" y="148.30" width="1.24" height="5.60" fill="#2f2528" stroke="none" stroke-width="0" />
<rect x="397.79" y="148.30" width="1.24" height="5.60" fill="#2f2528" stroke="none" stroke-width="0" />
<rect x="400.27" y="148.30" width="1.24" height="5.60" fill="#2f2528" stroke="none" stroke-width="0" />
<rect x="402.74" y="148.30" width="1.24" height="5.60" fill="#2f2528" stroke="none" stroke-width="0" />
<rect x="405.21" y="148.30" width="1.24" height="5.60" fill="#2f2528" stroke="none" stroke-width="0" />
<rect x="407.68" y="148.30" width="1.24" height="5.60" fill="#2f2528" stroke="none" stroke-width="0" />
<rect x="410.15" y="148.30" width="1.24" height="5.60" fill="#2f2528" stroke="none" stroke-width="0" />
<rect x="412.62" y="148.30" width="1.24" height="5.60" fill="#2f2528" stroke="none" stroke-width="0" />
<rect x="415.10" y="148.30" width="1.24" height="5.60" fill="#2f2528" stroke="none" stroke-width="0" />
<rect x="417.57" y="148.30" width="1.24" height="5.60" fill="#2f2528" stroke="none" stroke-width="0" />
<rect x="420.04" y="148.30" width="1.24" height="5.60" fill="#2f2528" stroke="none" stroke-width="0" />
<rect x="422.51" y="148.30" width="1.24" height="5.60" fill="#2f2528" stroke="none" stroke-width="0" />
<rect x="424.98" y="148.30" width="1.24" height="5.60" fill="#2f2528" stroke="none" stroke-width="0" />
<rect x="427.46" y="148.30" width="1.24" height="5.60" fill="#2f2528" stroke="none" stroke-width="0" />
<rect x="429.93" y="148.30" width="1.24" height="5.60" fill="#2f2528" stroke="none" stroke-width="0" />
<rect x="432.40" y="148.30" width="1.24" height="5.60" fill="#2f2528" stroke="none" stroke-width="0" />
<rect x="434.87" y="148.30" width="1.24" height="5.60" fill="#2f2528" stroke="none" stroke-width="0" />
<rect x="437.34" y="148.30" width="1.24" height="5.60" fill="#2f2528" stroke="none" stroke-width="0" />
<rect x="439.82" y="148.30" width="1.24" height="5.60" fill="#2f2528" stroke="none" stroke-width="0" />
<rect x="442.29" y="148.30" width="1.24" height="5.60" fill="#2f2528" stroke="none" stroke-width="0" />
<rect x="444.76" y="148.30" width="1.24" height="5.60" fill="#2f2528" stroke="none" stroke-width="0" />
<rect x="447.23" y="148.30" width="1.24" height="5.60" fill="#2f2528" stroke="none" stroke-width="0" />
<rect x="449.70" y="148.30" width="1.24" height="5.60" fill="#2f2528" stroke="none" stroke-width="0" />
<rect x="452.18" y="148.30" width="1.24" height="5.60" fill="#2f2528" stroke="none" stroke-width="0" />
<rect x="454.65" y="148.30" width="1.24" height="5.60" fill="#2f2528" stroke="none" stroke-width="0" />
<rect x="457.12" y="148.30" width="1.24" height="5.60" fill="#2f2528" stroke="none" stroke-width="0" />
<rect x="459.59" y="148.30" width="1.24" height="5.60" fill="#2f2528" stroke="none" stroke-width="0" />
<rect x="462.06" y="148.30" width="1.24" height="5.60" fill="#2f2528" stroke="none" stroke-width="0" />
<rect x="464.53" y="148.30" width="1.24" height="5.60" fill="#2f2528" stroke="none" stroke-width="0" />
<rect x="467.01" y="148.30" width="1.24" height="5.60" fill="#2f2528" stroke="none" stroke-width="0" />
<rect x="469.48" y="148.30" width="1.24" height="5.60" fill="#2f2528" stroke="none" stroke-width="0" />
<rect x="471.95" y="148.30" width="1.24" height="5.60" fill="#2f2528" stroke="none" stroke-width="0" />
<rect x="474.42" y="148.30" width="1.24" height="5.60" fill="#2f2528" stroke="none" stroke-width="0" />
<rect x="476.89" y="148.30" width="1.24" height="5.60" fill="#2f2528" stroke="none" stroke-width="0" />
<rect x="479.37" y="148.30" width="1.24" height="5.60" fill="#2f2528" stroke="none" stroke-width="0" />
<rect x="481.84" y="148.30" width="1.24" height="5.60" fill="#2f2528" stroke="none" stroke-width="0" />
<rect x="484.31" y="148.30" width="1.24" height="5.60" fill="#2f2528" stroke="none" stroke-width="0" />
<rect x="486.78" y="148.30" width="1.24" height="5.60" fill="#2f2528" stroke="none" stroke-width="0" />
<rect x="489.25" y="148.30" width="1.24" height="5.60" fill="#2f2528" stroke="none" stroke-width="0" />
<rect x="491.73" y="148.30" width="1.24" height="5.60" fill="#2f2528" stroke="none" stroke-width="0" />
<rect x="494.20" y="148.30" width="1.24" height="5.60" fill="#2f2528" stroke="none" stroke-width="0" />
<rect x="496.67" y="148.30" width="1.24" height="5.60" fill="#2f2528" stroke="none" stroke-width="0" />
<rect x="499.14" y="148.30" width="1.24" height="5.60" fill="#2f2528" stroke="none" stroke-width="0" />
<rect x="501.61" y="148.30" width="1.24" height="5.60" fill="#2f2528" stroke="none" stroke-width="0" />
<rect x="504.08" y="148.30" width="1.24" height="5.60" fill="#2f2528" stroke="none" stroke-width="0" />
<rect x="506.56" y="148.30" width="1.24" height="5.60" fill="#2f2528" stroke="none" stroke-width="0" />
<rect x="509.03" y="148.30" width="1.24" height="5.60" fill="#2f2528" stroke="none" stroke-width="0" />
<text x="349.6" y="111.0" font-size="7.0" fill="#3c3c78" color="#3c3c78" text-anchor="end" textLength="17.3" lengthAdjust="spacingAndGlyphs" style="stroke-width:0.15px">2DL1</text>
<text x="349.6" y="119.9" font-size="7.0" fill="#a8589e" color="#a8589e" text-anchor="end" textLength="28.5" lengthAdjust="spacingAndGlyphs" style="stroke-width:0.15px">2DL2/S2</text>
<text x="349.6" y="128.8" font-size="7.0" fill="#c04a4e" color="#c04a4e" text-anchor="end" textLength="17.3" lengthAdjust="spacingAndGlyphs" style="stroke-width:0.15px">2DL3</text>
<text x="349.6" y="137.5" font-size="7.0" fill="#5a78c0" color="#5a78c0" text-anchor="end" textLength="17.3" lengthAdjust="spacingAndGlyphs" style="stroke-width:0.15px">2DS1</text>
<text x="349.6" y="145.9" font-size="7.0" fill="#e08a4a" color="#e08a4a" text-anchor="end" textLength="17.3" lengthAdjust="spacingAndGlyphs" style="stroke-width:0.15px">2DS4</text>
<text x="349.6" y="154.8" font-size="7.0" fill="#2a9450" color="#2a9450" text-anchor="end" textLength="17.3" lengthAdjust="spacingAndGlyphs" style="stroke-width:0.15px">3DL1</text>
<text x="349.6" y="163.7" font-size="7.0" fill="#222222" color="#222222" text-anchor="end" textLength="17.3" lengthAdjust="spacingAndGlyphs" style="stroke-width:0.15px">3DL2</text>
<rect x="353.30" y="148.30" width="158.20" height="0.70" fill="#2f2528" stroke="none" stroke-width="0" />
<path d="M353.3 121 L353.3 115.6 L400 115.2 L425 114.4 L432.4 114.0 L432.4 121 Z" fill="#27287f"/>
<path d="M364.50 115.2 L366.00 113.5 L367.50 115.2 Z" fill="#222" opacity="0.7"/>
<path d="M370.80 115.2 L372.00 113.8 L373.20 115.2 Z" fill="#222" opacity="0.7"/>
<path d="M376.50 115.2 L378.00 113 L379.50 115.2 Z" fill="#222" opacity="0.7"/>
<path d="M382.50 115.2 L384.00 112.5 L385.50 115.2 Z" fill="#222" opacity="0.7"/>
<path d="M391.10 115.2 L392.00 108.6 L392.90 115.2 Z" fill="#222" opacity="0.7"/>
<path d="M393.30 115.2 L394.50 111 L395.70 115.2 Z" fill="#222" opacity="0.7"/>
<path d="M398.00 115.2 L399.00 110.5 L400.00 115.2 Z" fill="#222" opacity="0.7"/>
<path d="M402.10 115.2 L403.00 106.9 L403.90 115.2 Z" fill="#222" opacity="0.7"/>
<path d="M404.50 115.2 L405.50 109.5 L406.50 115.2 Z" fill="#222" opacity="0.7"/>
<path d="M407.10 115.2 L408.00 108 L408.90 115.2 Z" fill="#222" opacity="0.7"/>
<path d="M410.10 115.2 L411.00 106.3 L411.90 115.2 Z" fill="#222" opacity="0.7"/>
<path d="M412.00 115.2 L413.00 109 L414.00 115.2 Z" fill="#222" opacity="0.7"/>
<path d="M416.00 115.2 L417.00 111 L418.00 115.2 Z" fill="#222" opacity="0.7"/>
<path d="M421.10 115.2 L422.00 109.8 L422.90 115.2 Z" fill="#222" opacity="0.7"/>
<path d="M425.70 115.2 L426.70 111 L427.70 115.2 Z" fill="#222" opacity="0.7"/>
<path d="M428.20 115.2 L429.00 110 L429.80 115.2 Z" fill="#222" opacity="0.7"/>
<line x1="353.3" y1="115.5" x2="432.4" y2="113.9" stroke="#111" stroke-width="0.6" />
<path d="M435.00 115.4 L436.00 113.5 L437.00 115.4 Z" fill="#111" opacity="0.8"/>
<path d="M442.80 115.4 L444.00 113.8 L445.20 115.4 Z" fill="#111" opacity="0.8"/>
<path d="M450.50 115.4 L451.50 112.5 L452.50 115.4 Z" fill="#111" opacity="0.8"/>
<path d="M457.00 115.4 L458.00 112.5 L459.00 115.4 Z" fill="#111" opacity="0.8"/>
<path d="M460.60 115.4 L461.60 107.4 L462.60 115.4 Z" fill="#111" opacity="0.8"/>
<path d="M463.50 115.4 L464.50 104.5 L465.50 115.4 Z" fill="#111" opacity="0.8"/>
<path d="M465.60 115.4 L466.50 106 L467.40 115.4 Z" fill="#111" opacity="0.8"/>
<path d="M467.20 115.4 L468.10 102.4 L469.00 115.4 Z" fill="#111" opacity="0.8"/>
<path d="M469.40 115.4 L470.30 100.2 L471.20 115.4 Z" fill="#111" opacity="0.8"/>
<path d="M470.80 115.4 L471.70 97.3 L472.60 115.4 Z" fill="#111" opacity="0.8"/>
<path d="M472.50 115.4 L473.50 104 L474.50 115.4 Z" fill="#111" opacity="0.8"/>
<path d="M479.00 115.4 L480.00 112.5 L481.00 115.4 Z" fill="#111" opacity="0.8"/>
<path d="M482.30 115.4 L483.30 109.6 L484.30 115.4 Z" fill="#111" opacity="0.8"/>
<path d="M485.20 115.4 L486.20 110.3 L487.20 115.4 Z" fill="#111" opacity="0.8"/>
<path d="M496.00 115.4 L497.00 112 L498.00 115.4 Z" fill="#111" opacity="0.8"/>
<path d="M500.30 115.4 L501.30 106.7 L502.30 115.4 Z" fill="#111" opacity="0.8"/>
<path d="M502.60 115.4 L503.50 104 L504.40 115.4 Z" fill="#111" opacity="0.8"/>
<path d="M505.50 115.4 L506.40 93.7 L507.30 115.4 Z" fill="#111" opacity="0.8"/>
<path d="M507.10 115.4 L508.00 102 L508.90 115.4 Z" fill="#111" opacity="0.8"/>
<path d="M508.10 115.4 L509.00 100.2 L509.90 115.4 Z" fill="#111" opacity="0.8"/>
<path d="M509.40 115.4 L510.20 101 L511.00 115.4 Z" fill="#111" opacity="0.8"/>
<path d="M398.80 115.4 L400.00 108.5 L401.20 115.4 Z" fill="#555" opacity="0.5"/>
<path d="M400.50 115.4 L401.50 107.5 L402.50 115.4 Z" fill="#555" opacity="0.5"/>
<path d="M404.90 115.4 L406.00 107.5 L407.10 115.4 Z" fill="#555" opacity="0.5"/>
<path d="M408.50 115.4 L409.50 107 L410.50 115.4 Z" fill="#555" opacity="0.5"/>
<path d="M413.30 115.4 L414.50 108.5 L415.70 115.4 Z" fill="#555" opacity="0.5"/>
<path d="M417.80 115.4 L419.00 110 L420.20 115.4 Z" fill="#555" opacity="0.5"/>
<path d="M422.90 115.4 L424.00 108.5 L425.10 115.4 Z" fill="#555" opacity="0.5"/>
<path d="M427.00 115.4 L428.00 109 L429.00 115.4 Z" fill="#555" opacity="0.5"/>
<path d="M458.80 115.4 L460.00 108.5 L461.20 115.4 Z" fill="#555" opacity="0.5"/>
<path d="M461.90 115.4 L463.00 106 L464.10 115.4 Z" fill="#555" opacity="0.5"/>
<path d="M464.50 115.4 L465.50 103 L466.50 115.4 Z" fill="#555" opacity="0.5"/>
<path d="M466.50 115.4 L467.50 104 L468.50 115.4 Z" fill="#555" opacity="0.5"/>
<path d="M468.50 115.4 L469.50 99.5 L470.50 115.4 Z" fill="#555" opacity="0.5"/>
<path d="M471.50 115.4 L472.50 101 L473.50 115.4 Z" fill="#555" opacity="0.5"/>
<path d="M483.40 115.4 L484.50 110 L485.60 115.4 Z" fill="#555" opacity="0.5"/>
<path d="M498.90 115.4 L500.00 108 L501.10 115.4 Z" fill="#555" opacity="0.5"/>
<path d="M501.50 115.4 L502.50 103 L503.50 115.4 Z" fill="#555" opacity="0.5"/>
<path d="M504.00 115.4 L505.00 97 L506.00 115.4 Z" fill="#555" opacity="0.5"/>
<path d="M506.00 115.4 L507.00 99 L508.00 115.4 Z" fill="#555" opacity="0.5"/>
<path d="M508.50 115.4 L509.50 98.5 L510.50 115.4 Z" fill="#555" opacity="0.5"/>
<line x1="432.5" y1="115.3" x2="511" y2="115.3" stroke="#222" stroke-width="0.8" />
<path d="M430.9 114 L432.3 47.4 L433.5 114 Z" fill="#8c8cc8" stroke="#3a3a98" stroke-width="0.55"/>
<path d="M488.5 115.5 L490.3 42.3 L492.3 115.5 Z" fill="#dc9a9a" stroke="#b83038" stroke-width="0.6"/>
<path d="M485.60 115.4 L486.50 109 L487.40 115.4 Z" fill="#111" opacity="0.8"/>
<path d="M487.20 115.4 L488.00 111 L488.80 115.4 Z" fill="#111" opacity="0.8"/>
<path d="M492.00 115.4 L492.80 111.5 L493.60 115.4 Z" fill="#111" opacity="0.8"/>
<text x="372.8" y="53.3" font-size="7.4" textLength="54" lengthAdjust="spacingAndGlyphs"><tspan fill="#111" color="#111">Donor #164, </tspan><tspan fill="#3a3ab0" color="#3a3ab0">C2/C2</tspan></text>
<text x="436.2" y="35.6" font-size="7.4" textLength="53.5" lengthAdjust="spacingAndGlyphs"><tspan fill="#111" color="#111">Donor #059, </tspan><tspan fill="#c83030" color="#c83030">C1/C1</tspan></text>
<text x="0.9" y="182.0" font-size="10.3" fill="#000" color="#000" text-anchor="start" font-weight="bold" textLength="7.4" lengthAdjust="spacingAndGlyphs" >C</text>
<text x="384.5" y="182.0" font-size="10.2" fill="#000" color="#000" text-anchor="start" font-weight="bold" textLength="7.2" lengthAdjust="spacingAndGlyphs" >D</text>
<text x="83.0" y="187.0" font-size="10.2" fill="#000" color="#000" text-anchor="middle" textLength="44.8" lengthAdjust="spacingAndGlyphs" >NKG2A+</text>
<text x="190.8" y="187.0" font-size="10.2" fill="#000" color="#000" text-anchor="middle" textLength="84.0" lengthAdjust="spacingAndGlyphs" >NKG2C-NKG2A-</text>
<text x="307.1" y="187.0" font-size="10.2" fill="#000" color="#000" text-anchor="middle" textLength="87.8" lengthAdjust="spacingAndGlyphs" >NKG2C+NKG2A-</text>
<line x1="30.0" y1="202.6" x2="30.0" y2="300.25" stroke="#000" stroke-width="1.1" />
<line x1="29.45" y1="299.7" x2="126.5" y2="299.7" stroke="#000" stroke-width="1.1" />
<line x1="28.2" y1="299.7" x2="30.0" y2="299.7" stroke="#000" stroke-width="0.9" />
<text x="27.8" y="301.0" font-size="8.2" fill="#000" color="#000" text-anchor="end" textLength="5.0" lengthAdjust="spacingAndGlyphs" >0</text>
<line x1="28.2" y1="280.28" x2="30.0" y2="280.28" stroke="#000" stroke-width="0.9" />
<text x="27.7" y="281.58" font-size="8.2" fill="#000" color="#000" text-anchor="end" textLength="10.3" lengthAdjust="spacingAndGlyphs" >20</text>
<line x1="28.2" y1="260.86" x2="30.0" y2="260.86" stroke="#000" stroke-width="0.9" />
<text x="27.5" y="262.16" font-size="8.2" fill="#000" color="#000" text-anchor="end" textLength="10.3" lengthAdjust="spacingAndGlyphs" >40</text>
<line x1="28.2" y1="241.44" x2="30.0" y2="241.44" stroke="#000" stroke-width="0.9" />
<text x="27.4" y="242.74" font-size="8.2" fill="#000" color="#000" text-anchor="end" textLength="10.3" lengthAdjust="spacingAndGlyphs" >60</text>
<line x1="28.2" y1="222.01999999999998" x2="30.0" y2="222.01999999999998" stroke="#000" stroke-width="0.9" />
<text x="27.4" y="223.32" font-size="8.2" fill="#000" color="#000" text-anchor="end" textLength="10.3" lengthAdjust="spacingAndGlyphs" >80</text>
<line x1="28.2" y1="202.6" x2="30.0" y2="202.6" stroke="#000" stroke-width="0.9" />
<text x="26.8" y="203.9" font-size="8.2" fill="#000" color="#000" text-anchor="end" textLength="15.2" lengthAdjust="spacingAndGlyphs" >100</text>
<line x1="40.349999999999994" y1="281" x2="40.349999999999994" y2="289.9" stroke="#000" stroke-width="1.15" />
<line x1="40.349999999999994" y1="293.3" x2="40.349999999999994" y2="295.5" stroke="#000" stroke-width="1.15" />
<line x1="36.684" y1="281" x2="44.01599999999999" y2="281" stroke="#000" stroke-width="1.15" />
<line x1="36.684" y1="295.5" x2="44.01599999999999" y2="295.5" stroke="#000" stroke-width="1.15" />
<rect x="33.88" y="289.90" width="12.94" height="3.40" fill="#ffffff" stroke="#000" stroke-width="1.15" />
<line x1="33.9" y1="291.6" x2="46.8" y2="291.6" stroke="#000" stroke-width="1.15" />
<line x1="40.349999999999994" y1="299.7" x2="40.349999999999994" y2="301.5" stroke="#000" stroke-width="0.9" />
<line x1="54.25" y1="282.6" x2="54.25" y2="287.6" stroke="#000" stroke-width="1.15" />
<line x1="54.25" y1="293.3" x2="54.25" y2="294.2" stroke="#000" stroke-width="1.15" />
<line x1="50.688" y1="282.6" x2="57.812" y2="282.6" stroke="#000" stroke-width="1.15" />
<line x1="50.688" y1="294.2" x2="57.812" y2="294.2" stroke="#000" stroke-width="1.15" />
<rect x="47.98" y="287.60" width="12.54" height="5.70" fill="#c9c9c9" stroke="#000" stroke-width="1.15" />
<line x1="48.0" y1="290.1" x2="60.5" y2="290.1" stroke="#000" stroke-width="1.15" />
<line x1="54.25" y1="299.7" x2="54.25" y2="301.5" stroke="#000" stroke-width="0.9" />
<line x1="68.2" y1="284.5" x2="68.2" y2="288" stroke="#000" stroke-width="1.15" />
<line x1="68.2" y1="295.5" x2="68.2" y2="296.5" stroke="#000" stroke-width="1.15" />
<line x1="64.50800000000001" y1="284.5" x2="71.892" y2="284.5" stroke="#000" stroke-width="1.15" />
<line x1="64.50800000000001" y1="296.5" x2="71.892" y2="296.5" stroke="#000" stroke-width="1.15" />
<rect x="61.68" y="288.00" width="13.04" height="7.50" fill="#5e5e5e" stroke="#000" stroke-width="1.15" />
<line x1="61.7" y1="292.6" x2="74.7" y2="292.6" stroke="#000" stroke-width="1.15" />
<line x1="68.2" y1="299.7" x2="68.2" y2="301.5" stroke="#000" stroke-width="0.9" />
<line x1="88.6" y1="285.7" x2="88.6" y2="288.2" stroke="#000" stroke-width="1.15" />
<line x1="88.6" y1="293.8" x2="88.6" y2="295.6" stroke="#000" stroke-width="1.15" />
<line x1="85.16799999999999" y1="285.7" x2="92.032" y2="285.7" stroke="#000" stroke-width="1.15" />
<line x1="85.16799999999999" y1="295.6" x2="92.032" y2="295.6" stroke="#000" stroke-width="1.15" />
<rect x="82.58" y="288.20" width="12.04" height="5.60" fill="#ffffff" stroke="#000" stroke-width="1.15" />
<line x1="82.6" y1="291.2" x2="94.60000000000001" y2="291.2" stroke="#000" stroke-width="1.15" />
<line x1="88.6" y1="299.7" x2="88.6" y2="301.5" stroke="#000" stroke-width="0.9" />
<line x1="102.30000000000001" y1="286.4" x2="102.30000000000001" y2="289.4" stroke="#000" stroke-width="1.15" />
<line x1="102.30000000000001" y1="294.6" x2="102.30000000000001" y2="295.6" stroke="#000" stroke-width="1.15" />
<line x1="98.608" y1="286.4" x2="105.99200000000002" y2="286.4" stroke="#000" stroke-width="1.15" />
<line x1="98.608" y1="295.6" x2="105.99200000000002" y2="295.6" stroke="#000" stroke-width="1.15" />
<rect x="95.78" y="289.40" width="13.04" height="5.20" fill="#c9c9c9" stroke="#000" stroke-width="1.15" />
<line x1="95.8" y1="291.7" x2="108.80000000000001" y2="291.7" stroke="#000" stroke-width="1.15" />
<line x1="102.30000000000001" y1="299.7" x2="102.30000000000001" y2="301.5" stroke="#000" stroke-width="0.9" />
<line x1="116.65" y1="276.1" x2="116.65" y2="286.4" stroke="#000" stroke-width="1.15" />
<line x1="116.65" y1="293.5" x2="116.65" y2="297.3" stroke="#000" stroke-width="1.15" />
<line x1="112.88000000000001" y1="276.1" x2="120.42" y2="276.1" stroke="#000" stroke-width="1.15" />
<line x1="112.88000000000001" y1="297.3" x2="120.42" y2="297.3" stroke="#000" stroke-width="1.15" />
<rect x="109.98" y="286.40" width="13.34" height="7.10" fill="#5e5e5e" stroke="#000" stroke-width="1.15" />
<line x1="110.0" y1="290.1" x2="123.30000000000001" y2="290.1" stroke="#000" stroke-width="1.15" />
<line x1="116.65" y1="299.7" x2="116.65" y2="301.5" stroke="#000" stroke-width="0.9" />
<line x1="146.7" y1="203.0" x2="146.7" y2="300.65000000000003" stroke="#000" stroke-width="1.1" />
<line x1="146.14999999999998" y1="300.1" x2="243.0" y2="300.1" stroke="#000" stroke-width="1.1" />
<line x1="144.89999999999998" y1="300.1" x2="146.7" y2="300.1" stroke="#000" stroke-width="0.9" />
<text x="143.4" y="301.40000000000003" font-size="8.2" fill="#000" color="#000" text-anchor="end" textLength="5.0" lengthAdjust="spacingAndGlyphs" >0</text>
<line x1="144.89999999999998" y1="280.68" x2="146.7" y2="280.68" stroke="#000" stroke-width="0.9" />
<text x="142.1" y="281.98" font-size="8.2" fill="#000" color="#000" text-anchor="end" textLength="10.3" lengthAdjust="spacingAndGlyphs" >20</text>
<line x1="144.89999999999998" y1="261.26" x2="146.7" y2="261.26" stroke="#000" stroke-width="0.9" />
<text x="141.8" y="262.56" font-size="8.2" fill="#000" color="#000" text-anchor="end" textLength="10.3" lengthAdjust="spacingAndGlyphs" >40</text>
<line x1="144.89999999999998" y1="241.84" x2="146.7" y2="241.84" stroke="#000" stroke-width="0.9" />
<text x="141.5" y="243.14000000000001" font-size="8.2" fill="#000" color="#000" text-anchor="end" textLength="10.3" lengthAdjust="spacingAndGlyphs" >60</text>
<line x1="144.89999999999998" y1="222.42000000000002" x2="146.7" y2="222.42000000000002" stroke="#000" stroke-width="0.9" />
<text x="141.2" y="223.72000000000003" font-size="8.2" fill="#000" color="#000" text-anchor="end" textLength="10.3" lengthAdjust="spacingAndGlyphs" >80</text>
<line x1="144.89999999999998" y1="203.0" x2="146.7" y2="203.0" stroke="#000" stroke-width="0.9" />
<text x="140.9" y="204.3" font-size="8.2" fill="#000" color="#000" text-anchor="end" textLength="15.2" lengthAdjust="spacingAndGlyphs" >100</text>
<line x1="156.875" y1="263.75" x2="156.875" y2="270.5" stroke="#000" stroke-width="1.15" />
<line x1="156.875" y1="280.5" x2="156.875" y2="288.25" stroke="#000" stroke-width="1.15" />
<line x1="153.3" y1="263.75" x2="160.45" y2="263.75" stroke="#000" stroke-width="1.15" />
<line x1="153.3" y1="288.25" x2="160.45" y2="288.25" stroke="#000" stroke-width="1.15" />
<rect x="150.58" y="270.50" width="12.59" height="10.00" fill="#ffffff" stroke="#000" stroke-width="1.15" />
<line x1="150.6" y1="276.75" x2="163.15" y2="276.75" stroke="#000" stroke-width="1.15" />
<line x1="156.875" y1="300.1" x2="156.875" y2="301.90000000000003" stroke="#000" stroke-width="0.9" />
<line x1="170.625" y1="253" x2="170.625" y2="258" stroke="#000" stroke-width="1.15" />
<line x1="170.625" y1="274.25" x2="170.625" y2="280.5" stroke="#000" stroke-width="1.15" />
<line x1="167.05" y1="253" x2="174.2" y2="253" stroke="#000" stroke-width="1.15" />
<line x1="167.05" y1="280.5" x2="174.2" y2="280.5" stroke="#000" stroke-width="1.15" />
<rect x="164.33" y="258.00" width="12.59" height="16.25" fill="#c9c9c9" stroke="#000" stroke-width="1.15" />
<line x1="164.35" y1="268.25" x2="176.9" y2="268.25" stroke="#000" stroke-width="1.15" />
<line x1="170.625" y1="300.1" x2="170.625" y2="301.90000000000003" stroke="#000" stroke-width="0.9" />
<line x1="184.8" y1="253.75" x2="184.8" y2="262.5" stroke="#000" stroke-width="1.15" />
<line x1="184.8" y1="279.5" x2="184.8" y2="285.75" stroke="#000" stroke-width="1.15" />
<line x1="181.056" y1="253.75" x2="188.544" y2="253.75" stroke="#000" stroke-width="1.15" />
<line x1="181.056" y1="285.75" x2="188.544" y2="285.75" stroke="#000" stroke-width="1.15" />
<rect x="178.18" y="262.50" width="13.24" height="17.00" fill="#5e5e5e" stroke="#000" stroke-width="1.15" />
<line x1="178.2" y1="272" x2="191.4" y2="272" stroke="#000" stroke-width="1.15" />
<line x1="184.8" y1="300.1" x2="184.8" y2="301.90000000000003" stroke="#000" stroke-width="0.9" />
<line x1="205.125" y1="267" x2="205.125" y2="272" stroke="#000" stroke-width="1.15" />
<line x1="205.125" y1="284.5" x2="205.125" y2="290.5" stroke="#000" stroke-width="1.15" />
<line x1="201.55" y1="267" x2="208.7" y2="267" stroke="#000" stroke-width="1.15" />
<line x1="201.55" y1="290.5" x2="208.7" y2="290.5" stroke="#000" stroke-width="1.15" />
<rect x="198.83" y="272.00" width="12.59" height="12.50" fill="#ffffff" stroke="#000" stroke-width="1.15" />
<line x1="198.85" y1="277" x2="211.4" y2="277" stroke="#000" stroke-width="1.15" />
<line x1="205.125" y1="300.1" x2="205.125" y2="301.90000000000003" stroke="#000" stroke-width="0.9" />
<line x1="218.875" y1="256.25" x2="218.875" y2="265.5" stroke="#000" stroke-width="1.15" />
<line x1="218.875" y1="278" x2="218.875" y2="283.75" stroke="#000" stroke-width="1.15" />
<line x1="215.3" y1="256.25" x2="222.45" y2="256.25" stroke="#000" stroke-width="1.15" />
<line x1="215.3" y1="283.75" x2="222.45" y2="283.75" stroke="#000" stroke-width="1.15" />
<rect x="212.58" y="265.50" width="12.59" height="12.50" fill="#c9c9c9" stroke="#000" stroke-width="1.15" />
<line x1="212.6" y1="271.25" x2="225.15" y2="271.25" stroke="#000" stroke-width="1.15" />
<line x1="218.875" y1="300.1" x2="218.875" y2="301.90000000000003" stroke="#000" stroke-width="0.9" />
<line x1="233.0" y1="242" x2="233.0" y2="254.5" stroke="#000" stroke-width="1.15" />
<line x1="233.0" y1="272.5" x2="233.0" y2="284.5" stroke="#000" stroke-width="1.15" />
<line x1="229.256" y1="242" x2="236.744" y2="242" stroke="#000" stroke-width="1.15" />
<line x1="229.256" y1="284.5" x2="236.744" y2="284.5" stroke="#000" stroke-width="1.15" />
<rect x="226.38" y="254.50" width="13.24" height="18.00" fill="#5e5e5e" stroke="#000" stroke-width="1.15" />
<line x1="226.4" y1="266.25" x2="239.6" y2="266.25" stroke="#000" stroke-width="1.15" />
<line x1="233.0" y1="300.1" x2="233.0" y2="301.90000000000003" stroke="#000" stroke-width="0.9" />
<line x1="262.7" y1="203.0" x2="262.7" y2="300.55" stroke="#000" stroke-width="1.1" />
<line x1="262.15" y1="300.0" x2="360" y2="300.0" stroke="#000" stroke-width="1.1" />
<line x1="260.9" y1="300.0" x2="262.7" y2="300.0" stroke="#000" stroke-width="0.9" />
<text x="258.5" y="301.3" font-size="8.2" fill="#000" color="#000" text-anchor="end" textLength="5.0" lengthAdjust="spacingAndGlyphs" >0</text>
<line x1="260.9" y1="280.6" x2="262.7" y2="280.6" stroke="#000" stroke-width="0.9" />
<text x="258.5" y="281.90000000000003" font-size="8.2" fill="#000" color="#000" text-anchor="end" textLength="10.3" lengthAdjust="spacingAndGlyphs" >20</text>
<line x1="260.9" y1="261.2" x2="262.7" y2="261.2" stroke="#000" stroke-width="0.9" />
<text x="258.5" y="262.5" font-size="8.2" fill="#000" color="#000" text-anchor="end" textLength="10.3" lengthAdjust="spacingAndGlyphs" >40</text>
<line x1="260.9" y1="241.8" x2="262.7" y2="241.8" stroke="#000" stroke-width="0.9" />
<text x="258.5" y="243.10000000000002" font-size="8.2" fill="#000" color="#000" text-anchor="end" textLength="10.3" lengthAdjust="spacingAndGlyphs" >60</text>
<line x1="260.9" y1="222.4" x2="262.7" y2="222.4" stroke="#000" stroke-width="0.9" />
<text x="258.5" y="223.70000000000002" font-size="8.2" fill="#000" color="#000" text-anchor="end" textLength="10.3" lengthAdjust="spacingAndGlyphs" >80</text>
<line x1="260.9" y1="203.0" x2="262.7" y2="203.0" stroke="#000" stroke-width="0.9" />
<text x="258.5" y="204.3" font-size="8.2" fill="#000" color="#000" text-anchor="end" textLength="15.2" lengthAdjust="spacingAndGlyphs" >100</text>
<line x1="273.125" y1="256.25" x2="273.125" y2="263" stroke="#000" stroke-width="1.15" />
<line x1="273.125" y1="277.5" x2="273.125" y2="286.25" stroke="#000" stroke-width="1.15" />
<line x1="269.55" y1="256.25" x2="276.7" y2="256.25" stroke="#000" stroke-width="1.15" />
<line x1="269.55" y1="286.25" x2="276.7" y2="286.25" stroke="#000" stroke-width="1.15" />
<rect x="266.83" y="263.00" width="12.59" height="14.50" fill="#ffffff" stroke="#000" stroke-width="1.15" />
<line x1="266.85" y1="271.75" x2="279.4" y2="271.75" stroke="#000" stroke-width="1.15" />
<line x1="273.125" y1="300.0" x2="273.125" y2="301.8" stroke="#000" stroke-width="0.9" />
<line x1="286.625" y1="251.25" x2="286.625" y2="261.75" stroke="#000" stroke-width="1.15" />
<line x1="286.625" y1="275.75" x2="286.625" y2="280.5" stroke="#000" stroke-width="1.15" />
<line x1="283.18" y1="251.25" x2="290.07" y2="251.25" stroke="#000" stroke-width="1.15" />
<line x1="283.18" y1="280.5" x2="290.07" y2="280.5" stroke="#000" stroke-width="1.15" />
<rect x="280.58" y="261.75" width="12.09" height="14.00" fill="#c9c9c9" stroke="#000" stroke-width="1.15" />
<line x1="280.6" y1="267.5" x2="292.65" y2="267.5" stroke="#000" stroke-width="1.15" />
<line x1="286.625" y1="300.0" x2="286.625" y2="301.8" stroke="#000" stroke-width="0.9" />
<line x1="300.625" y1="244.5" x2="300.625" y2="254.25" stroke="#000" stroke-width="1.15" />
<line x1="300.625" y1="282.5" x2="300.625" y2="287" stroke="#000" stroke-width="1.15" />
<line x1="296.79" y1="244.5" x2="304.46" y2="244.5" stroke="#000" stroke-width="1.15" />
<line x1="296.79" y1="287" x2="304.46" y2="287" stroke="#000" stroke-width="1.15" />
<rect x="293.83" y="254.25" width="13.59" height="28.25" fill="#5e5e5e" stroke="#000" stroke-width="1.15" />
<line x1="293.85" y1="273.75" x2="307.4" y2="273.75" stroke="#000" stroke-width="1.15" />
<line x1="300.625" y1="300.0" x2="300.625" y2="301.8" stroke="#000" stroke-width="0.9" />
<line x1="321.875" y1="265" x2="321.875" y2="273.25" stroke="#000" stroke-width="1.15" />
<line x1="321.875" y1="292.5" x2="321.875" y2="297.5" stroke="#000" stroke-width="1.15" />
<line x1="318.3" y1="265" x2="325.45" y2="265" stroke="#000" stroke-width="1.15" />
<line x1="318.3" y1="297.5" x2="325.45" y2="297.5" stroke="#000" stroke-width="1.15" />
<rect x="315.58" y="273.25" width="12.59" height="19.25" fill="#ffffff" stroke="#000" stroke-width="1.15" />
<line x1="315.6" y1="283.75" x2="328.15" y2="283.75" stroke="#000" stroke-width="1.15" />
<line x1="321.875" y1="300.0" x2="321.875" y2="301.8" stroke="#000" stroke-width="0.9" />
<line x1="335.625" y1="209.25" x2="335.625" y2="231.75" stroke="#000" stroke-width="1.15" />
<line x1="335.625" y1="275" x2="335.625" y2="286.25" stroke="#000" stroke-width="1.15" />
<line x1="332.05" y1="209.25" x2="339.2" y2="209.25" stroke="#000" stroke-width="1.15" />
<line x1="332.05" y1="286.25" x2="339.2" y2="286.25" stroke="#000" stroke-width="1.15" />
<rect x="329.33" y="231.75" width="12.59" height="43.25" fill="#c9c9c9" stroke="#000" stroke-width="1.15" />
<line x1="329.35" y1="264.25" x2="341.9" y2="264.25" stroke="#000" stroke-width="1.15" />
<line x1="335.625" y1="300.0" x2="335.625" y2="301.8" stroke="#000" stroke-width="0.9" />
<line x1="349.625" y1="217.5" x2="349.625" y2="222" stroke="#000" stroke-width="1.15" />
<line x1="349.625" y1="264.5" x2="349.625" y2="275" stroke="#000" stroke-width="1.15" />
<line x1="345.92" y1="217.5" x2="353.33" y2="217.5" stroke="#000" stroke-width="1.15" />
<line x1="345.92" y1="275" x2="353.33" y2="275" stroke="#000" stroke-width="1.15" />
<rect x="343.08" y="222.00" width="13.09" height="42.50" fill="#5e5e5e" stroke="#000" stroke-width="1.15" />
<line x1="343.1" y1="245.5" x2="356.15" y2="245.5" stroke="#000" stroke-width="1.15" />
<line x1="349.625" y1="300.0" x2="349.625" y2="301.8" stroke="#000" stroke-width="0.9" />
<line x1="421.8" y1="201.7" x2="421.8" y2="299.15000000000003" stroke="#000" stroke-width="1.1" />
<line x1="421.25" y1="298.6" x2="518" y2="298.6" stroke="#000" stroke-width="1.1" />
<line x1="420.0" y1="298.6" x2="421.8" y2="298.6" stroke="#000" stroke-width="0.9" />
<text x="419.2" y="299.90000000000003" font-size="8.2" fill="#000" color="#000" text-anchor="end" textLength="5.0" lengthAdjust="spacingAndGlyphs" >0</text>
<line x1="420.0" y1="279.22" x2="421.8" y2="279.22" stroke="#000" stroke-width="0.9" />
<text x="419.2" y="280.52000000000004" font-size="8.2" fill="#000" color="#000" text-anchor="end" textLength="10.3" lengthAdjust="spacingAndGlyphs" >20</text>
<line x1="420.0" y1="259.84000000000003" x2="421.8" y2="259.84000000000003" stroke="#000" stroke-width="0.9" />
<text x="419.2" y="261.14000000000004" font-size="8.2" fill="#000" color="#000" text-anchor="end" textLength="10.3" lengthAdjust="spacingAndGlyphs" >40</text>
<line x1="420.0" y1="240.46" x2="421.8" y2="240.46" stroke="#000" stroke-width="0.9" />
<text x="419.2" y="241.76000000000002" font-size="8.2" fill="#000" color="#000" text-anchor="end" textLength="10.3" lengthAdjust="spacingAndGlyphs" >60</text>
<line x1="420.0" y1="221.07999999999998" x2="421.8" y2="221.07999999999998" stroke="#000" stroke-width="0.9" />
<text x="419.2" y="222.38" font-size="8.2" fill="#000" color="#000" text-anchor="end" textLength="10.3" lengthAdjust="spacingAndGlyphs" >80</text>
<line x1="420.0" y1="201.7" x2="421.8" y2="201.7" stroke="#000" stroke-width="0.9" />
<text x="419.2" y="203.0" font-size="8.2" fill="#000" color="#000" text-anchor="end" textLength="15.2" lengthAdjust="spacingAndGlyphs" >100</text>
<line x1="431.6" y1="263.7" x2="431.6" y2="270.1" stroke="#000" stroke-width="1.15" />
<line x1="431.6" y1="286.8" x2="431.6" y2="293.4" stroke="#000" stroke-width="1.15" />
<line x1="428.064" y1="263.7" x2="435.136" y2="263.7" stroke="#000" stroke-width="1.15" />
<line x1="428.064" y1="293.4" x2="435.136" y2="293.4" stroke="#000" stroke-width="1.15" />
<rect x="425.38" y="270.10" width="12.44" height="16.70" fill="#ffffff" stroke="#000" stroke-width="1.15" />
<line x1="425.40000000000003" y1="279.6" x2="437.79999999999995" y2="279.6" stroke="#000" stroke-width="1.15" />
<line x1="431.6" y1="298.6" x2="431.6" y2="300.40000000000003" stroke="#000" stroke-width="0.9" />
<line x1="445.75" y1="237.8" x2="445.75" y2="254.2" stroke="#000" stroke-width="1.15" />
<line x1="445.75" y1="273.3" x2="445.75" y2="281" stroke="#000" stroke-width="1.15" />
<line x1="441.928" y1="237.8" x2="449.572" y2="237.8" stroke="#000" stroke-width="1.15" />
<line x1="441.928" y1="281" x2="449.572" y2="281" stroke="#000" stroke-width="1.15" />
<rect x="438.98" y="254.20" width="13.54" height="19.10" fill="#c9c9c9" stroke="#000" stroke-width="1.15" />
<line x1="439.0" y1="266.6" x2="452.5" y2="266.6" stroke="#000" stroke-width="1.15" />
<line x1="445.75" y1="298.6" x2="445.75" y2="300.40000000000003" stroke="#000" stroke-width="0.9" />
<line x1="459.85" y1="218.5" x2="459.85" y2="235.8" stroke="#000" stroke-width="1.15" />
<line x1="459.85" y1="266.6" x2="459.85" y2="278.2" stroke="#000" stroke-width="1.15" />
<line x1="456.34000000000003" y1="218.5" x2="463.36" y2="218.5" stroke="#000" stroke-width="1.15" />
<line x1="456.34000000000003" y1="278.2" x2="463.36" y2="278.2" stroke="#000" stroke-width="1.15" />
<rect x="453.68" y="235.80" width="12.34" height="30.80" fill="#5e5e5e" stroke="#000" stroke-width="1.15" />
<line x1="453.70000000000005" y1="257.1" x2="466.0" y2="257.1" stroke="#000" stroke-width="1.15" />
<line x1="459.85" y1="298.6" x2="459.85" y2="300.40000000000003" stroke="#000" stroke-width="0.9" />
<line x1="480.5" y1="269.5" x2="480.5" y2="289.7" stroke="#000" stroke-width="1.15" />
<line x1="480.5" y1="296" x2="480.5" y2="298" stroke="#000" stroke-width="1.15" />
<line x1="476.75600000000003" y1="269.5" x2="484.24399999999997" y2="269.5" stroke="#000" stroke-width="1.15" />
<line x1="476.75600000000003" y1="298" x2="484.24399999999997" y2="298" stroke="#000" stroke-width="1.15" />
<rect x="473.88" y="289.70" width="13.24" height="6.30" fill="#ffffff" stroke="#000" stroke-width="1.15" />
<line x1="473.90000000000003" y1="293.4" x2="487.09999999999997" y2="293.4" stroke="#000" stroke-width="1.15" />
<line x1="480.5" y1="298.6" x2="480.5" y2="300.40000000000003" stroke="#000" stroke-width="0.9" />
<line x1="494.45" y1="205.2" x2="494.45" y2="208.4" stroke="#000" stroke-width="1.15" />
<line x1="494.45" y1="284.5" x2="494.45" y2="289.7" stroke="#000" stroke-width="1.15" />
<line x1="490.94" y1="205.2" x2="497.96" y2="205.2" stroke="#000" stroke-width="1.15" />
<line x1="490.94" y1="289.7" x2="497.96" y2="289.7" stroke="#000" stroke-width="1.15" />
<rect x="488.28" y="208.40" width="12.34" height="76.10" fill="#c9c9c9" stroke="#000" stroke-width="1.15" />
<line x1="488.3" y1="224.2" x2="500.59999999999997" y2="224.2" stroke="#000" stroke-width="1.15" />
<line x1="494.45" y1="298.6" x2="494.45" y2="300.40000000000003" stroke="#000" stroke-width="0.9" />
<line x1="508.45000000000005" y1="214.7" x2="508.45000000000005" y2="215.3" stroke="#000" stroke-width="1.15" />
<line x1="508.45000000000005" y1="234.9" x2="508.45000000000005" y2="243.6" stroke="#000" stroke-width="1.15" />
<line x1="504.68" y1="214.7" x2="512.22" y2="214.7" stroke="#000" stroke-width="1.15" />
<line x1="504.68" y1="243.6" x2="512.22" y2="243.6" stroke="#000" stroke-width="1.15" />
<rect x="501.78" y="215.30" width="13.34" height="19.60" fill="#5e5e5e" stroke="#000" stroke-width="1.15" />
<line x1="501.8" y1="221.3" x2="515.1" y2="221.3" stroke="#000" stroke-width="1.15" />
<line x1="508.45000000000005" y1="298.6" x2="508.45000000000005" y2="300.40000000000003" stroke="#000" stroke-width="0.9" />
<line x1="30.5" y1="334.5" x2="30.5" y2="431.55" stroke="#000" stroke-width="1.1" />
<line x1="29.95" y1="431.0" x2="127.4" y2="431.0" stroke="#000" stroke-width="1.1" />
<line x1="28.7" y1="431.0" x2="30.5" y2="431.0" stroke="#000" stroke-width="0.9" />
<text x="28.6" y="432.3" font-size="8.2" fill="#000" color="#000" text-anchor="end" textLength="5.0" lengthAdjust="spacingAndGlyphs" >0</text>
<line x1="28.7" y1="411.7" x2="30.5" y2="411.7" stroke="#000" stroke-width="0.9" />
<text x="28.2" y="413.0" font-size="8.2" fill="#000" color="#000" text-anchor="end" textLength="10.3" lengthAdjust="spacingAndGlyphs" >20</text>
<line x1="28.7" y1="392.4" x2="30.5" y2="392.4" stroke="#000" stroke-width="0.9" />
<text x="28.1" y="393.7" font-size="8.2" fill="#000" color="#000" text-anchor="end" textLength="10.3" lengthAdjust="spacingAndGlyphs" >40</text>
<line x1="28.7" y1="373.1" x2="30.5" y2="373.1" stroke="#000" stroke-width="0.9" />
<text x="28.0" y="374.40000000000003" font-size="8.2" fill="#000" color="#000" text-anchor="end" textLength="10.3" lengthAdjust="spacingAndGlyphs" >60</text>
<line x1="28.7" y1="353.8" x2="30.5" y2="353.8" stroke="#000" stroke-width="0.9" />
<text x="28.0" y="355.1" font-size="8.2" fill="#000" color="#000" text-anchor="end" textLength="10.3" lengthAdjust="spacingAndGlyphs" >80</text>
<line x1="28.7" y1="334.5" x2="30.5" y2="334.5" stroke="#000" stroke-width="0.9" />
<text x="27.4" y="335.8" font-size="8.2" fill="#000" color="#000" text-anchor="end" textLength="15.2" lengthAdjust="spacingAndGlyphs" >100</text>
<line x1="40.625" y1="407.5" x2="40.625" y2="412.6" stroke="#000" stroke-width="1.15" />
<line x1="40.625" y1="423.3" x2="40.625" y2="425.4" stroke="#000" stroke-width="1.15" />
<line x1="37.05" y1="407.5" x2="44.2" y2="407.5" stroke="#000" stroke-width="1.15" />
<line x1="37.05" y1="425.4" x2="44.2" y2="425.4" stroke="#000" stroke-width="1.15" />
<rect x="34.33" y="412.60" width="12.59" height="10.70" fill="#ffffff" stroke="#000" stroke-width="1.15" />
<line x1="34.35" y1="420.0" x2="46.9" y2="420.0" stroke="#000" stroke-width="1.15" />
<line x1="40.625" y1="431.0" x2="40.625" y2="432.8" stroke="#000" stroke-width="0.9" />
<line x1="54.375" y1="405.5" x2="54.375" y2="410" stroke="#000" stroke-width="1.15" />
<line x1="54.375" y1="422.5" x2="54.375" y2="423.5" stroke="#000" stroke-width="1.15" />
<line x1="50.8" y1="405.5" x2="57.95" y2="405.5" stroke="#000" stroke-width="1.15" />
<line x1="50.8" y1="423.5" x2="57.95" y2="423.5" stroke="#000" stroke-width="1.15" />
<rect x="48.08" y="410.00" width="12.59" height="12.50" fill="#c9c9c9" stroke="#000" stroke-width="1.15" />
<line x1="48.1" y1="417" x2="60.65" y2="417" stroke="#000" stroke-width="1.15" />
<line x1="54.375" y1="431.0" x2="54.375" y2="432.8" stroke="#000" stroke-width="0.9" />
<line x1="68.375" y1="413" x2="68.375" y2="416.25" stroke="#000" stroke-width="1.15" />
<line x1="68.375" y1="423" x2="68.375" y2="426.25" stroke="#000" stroke-width="1.15" />
<line x1="64.67" y1="413" x2="72.08" y2="413" stroke="#000" stroke-width="1.15" />
<line x1="64.67" y1="426.25" x2="72.08" y2="426.25" stroke="#000" stroke-width="1.15" />
<rect x="61.83" y="416.25" width="13.09" height="6.75" fill="#5e5e5e" stroke="#000" stroke-width="1.15" />
<line x1="61.85" y1="420" x2="74.9" y2="420" stroke="#000" stroke-width="1.15" />
<line x1="68.375" y1="431.0" x2="68.375" y2="432.8" stroke="#000" stroke-width="0.9" />
<line x1="89.0" y1="412.2" x2="89.0" y2="416.9" stroke="#000" stroke-width="1.15" />
<line x1="89.0" y1="423.5" x2="89.0" y2="425.4" stroke="#000" stroke-width="1.15" />
<line x1="85.568" y1="412.2" x2="92.432" y2="412.2" stroke="#000" stroke-width="1.15" />
<line x1="85.568" y1="425.4" x2="92.432" y2="425.4" stroke="#000" stroke-width="1.15" />
<rect x="82.98" y="416.90" width="12.04" height="6.60" fill="#ffffff" stroke="#000" stroke-width="1.15" />
<line x1="83.0" y1="420.6" x2="95.0" y2="420.6" stroke="#000" stroke-width="1.15" />
<line x1="89.0" y1="431.0" x2="89.0" y2="432.8" stroke="#000" stroke-width="0.9" />
<line x1="102.75" y1="411.6" x2="102.75" y2="415.7" stroke="#000" stroke-width="1.15" />
<line x1="102.75" y1="423.5" x2="102.75" y2="425.2" stroke="#000" stroke-width="1.15" />
<line x1="99.032" y1="411.6" x2="106.468" y2="411.6" stroke="#000" stroke-width="1.15" />
<line x1="99.032" y1="425.2" x2="106.468" y2="425.2" stroke="#000" stroke-width="1.15" />
<rect x="96.18" y="415.70" width="13.14" height="7.80" fill="#c9c9c9" stroke="#000" stroke-width="1.15" />
<line x1="96.19999999999999" y1="420.3" x2="109.30000000000001" y2="420.3" stroke="#000" stroke-width="1.15" />
<line x1="102.75" y1="431.0" x2="102.75" y2="432.8" stroke="#000" stroke-width="0.9" />
<line x1="117.05000000000001" y1="409.3" x2="117.05000000000001" y2="416.7" stroke="#000" stroke-width="1.15" />
<line x1="117.05000000000001" y1="423.5" x2="117.05000000000001" y2="425.6" stroke="#000" stroke-width="1.15" />
<line x1="113.33200000000001" y1="409.3" x2="120.76800000000001" y2="409.3" stroke="#000" stroke-width="1.15" />
<line x1="113.33200000000001" y1="425.6" x2="120.76800000000001" y2="425.6" stroke="#000" stroke-width="1.15" />
<rect x="110.48" y="416.70" width="13.14" height="6.80" fill="#5e5e5e" stroke="#000" stroke-width="1.15" />
<line x1="110.5" y1="419.6" x2="123.60000000000001" y2="419.6" stroke="#000" stroke-width="1.15" />
<line x1="117.05000000000001" y1="431.0" x2="117.05000000000001" y2="432.8" stroke="#000" stroke-width="0.9" />
<line x1="147.3" y1="333.9" x2="147.3" y2="430.85" stroke="#000" stroke-width="1.1" />
<line x1="146.75" y1="430.3" x2="241.5" y2="430.3" stroke="#000" stroke-width="1.1" />
<line x1="145.5" y1="430.3" x2="147.3" y2="430.3" stroke="#000" stroke-width="0.9" />
<text x="143.3" y="431.6" font-size="8.2" fill="#000" color="#000" text-anchor="end" textLength="5.0" lengthAdjust="spacingAndGlyphs" >0</text>
<line x1="145.5" y1="411.02" x2="147.3" y2="411.02" stroke="#000" stroke-width="0.9" />
<text x="143.3" y="412.32" font-size="8.2" fill="#000" color="#000" text-anchor="end" textLength="10.3" lengthAdjust="spacingAndGlyphs" >20</text>
<line x1="145.5" y1="391.74" x2="147.3" y2="391.74" stroke="#000" stroke-width="0.9" />
<text x="143.3" y="393.04" font-size="8.2" fill="#000" color="#000" text-anchor="end" textLength="10.3" lengthAdjust="spacingAndGlyphs" >40</text>
<line x1="145.5" y1="372.46" x2="147.3" y2="372.46" stroke="#000" stroke-width="0.9" />
<text x="143.3" y="373.76" font-size="8.2" fill="#000" color="#000" text-anchor="end" textLength="10.3" lengthAdjust="spacingAndGlyphs" >60</text>
<line x1="145.5" y1="353.17999999999995" x2="147.3" y2="353.17999999999995" stroke="#000" stroke-width="0.9" />
<text x="143.3" y="354.47999999999996" font-size="8.2" fill="#000" color="#000" text-anchor="end" textLength="10.3" lengthAdjust="spacingAndGlyphs" >80</text>
<line x1="145.5" y1="333.9" x2="147.3" y2="333.9" stroke="#000" stroke-width="0.9" />
<text x="143.3" y="335.2" font-size="8.2" fill="#000" color="#000" text-anchor="end" textLength="15.2" lengthAdjust="spacingAndGlyphs" >100</text>
<line x1="158.125" y1="377" x2="158.125" y2="389" stroke="#000" stroke-width="1.15" />
<line x1="158.125" y1="409" x2="158.125" y2="411" stroke="#000" stroke-width="1.15" />
<line x1="154.55" y1="377" x2="161.7" y2="377" stroke="#000" stroke-width="1.15" />
<line x1="154.55" y1="411" x2="161.7" y2="411" stroke="#000" stroke-width="1.15" />
<rect x="151.83" y="389.00" width="12.59" height="20.00" fill="#ffffff" stroke="#000" stroke-width="1.15" />
<line x1="151.85" y1="396.5" x2="164.4" y2="396.5" stroke="#000" stroke-width="1.15" />
<line x1="158.125" y1="430.3" x2="158.125" y2="432.1" stroke="#000" stroke-width="0.9" />
<line x1="171.875" y1="378.5" x2="171.875" y2="385.75" stroke="#000" stroke-width="1.15" />
<line x1="171.875" y1="407.75" x2="171.875" y2="409.5" stroke="#000" stroke-width="1.15" />
<line x1="168.3" y1="378.5" x2="175.45" y2="378.5" stroke="#000" stroke-width="1.15" />
<line x1="168.3" y1="409.5" x2="175.45" y2="409.5" stroke="#000" stroke-width="1.15" />
<rect x="165.58" y="385.75" width="12.59" height="22.00" fill="#c9c9c9" stroke="#000" stroke-width="1.15" />
<line x1="165.6" y1="397.8" x2="178.15" y2="397.8" stroke="#000" stroke-width="1.15" />
<line x1="171.875" y1="430.3" x2="171.875" y2="432.1" stroke="#000" stroke-width="0.9" />
<line x1="185.625" y1="394" x2="185.625" y2="397.75" stroke="#000" stroke-width="1.15" />
<line x1="185.625" y1="413.25" x2="185.625" y2="420.75" stroke="#000" stroke-width="1.15" />
<line x1="182.05" y1="394" x2="189.2" y2="394" stroke="#000" stroke-width="1.15" />
<line x1="182.05" y1="420.75" x2="189.2" y2="420.75" stroke="#000" stroke-width="1.15" />
<rect x="179.33" y="397.75" width="12.59" height="15.50" fill="#5e5e5e" stroke="#000" stroke-width="1.15" />
<line x1="179.35" y1="408.3" x2="191.9" y2="408.3" stroke="#000" stroke-width="1.15" />
<line x1="185.625" y1="430.3" x2="185.625" y2="432.1" stroke="#000" stroke-width="0.9" />
<line x1="206.125" y1="375.75" x2="206.125" y2="385.25" stroke="#000" stroke-width="1.15" />
<line x1="206.125" y1="409" x2="206.125" y2="413.5" stroke="#000" stroke-width="1.15" />
<line x1="202.55" y1="375.75" x2="209.7" y2="375.75" stroke="#000" stroke-width="1.15" />
<line x1="202.55" y1="413.5" x2="209.7" y2="413.5" stroke="#000" stroke-width="1.15" />
<rect x="199.83" y="385.25" width="12.59" height="23.75" fill="#ffffff" stroke="#000" stroke-width="1.15" />
<line x1="199.85" y1="399.5" x2="212.4" y2="399.5" stroke="#000" stroke-width="1.15" />
<line x1="206.125" y1="430.3" x2="206.125" y2="432.1" stroke="#000" stroke-width="0.9" />
<line x1="219.875" y1="379.5" x2="219.875" y2="392.75" stroke="#000" stroke-width="1.15" />
<line x1="219.875" y1="409.5" x2="219.875" y2="414" stroke="#000" stroke-width="1.15" />
<line x1="216.3" y1="379.5" x2="223.45" y2="379.5" stroke="#000" stroke-width="1.15" />
<line x1="216.3" y1="414" x2="223.45" y2="414" stroke="#000" stroke-width="1.15" />
<rect x="213.58" y="392.75" width="12.59" height="16.75" fill="#c9c9c9" stroke="#000" stroke-width="1.15" />
<line x1="213.6" y1="401.5" x2="226.15" y2="401.5" stroke="#000" stroke-width="1.15" />
<line x1="219.875" y1="430.3" x2="219.875" y2="432.1" stroke="#000" stroke-width="0.9" />
<line x1="233.625" y1="389" x2="233.625" y2="396.5" stroke="#000" stroke-width="1.15" />
<line x1="233.625" y1="410.75" x2="233.625" y2="417.75" stroke="#000" stroke-width="1.15" />
<line x1="230.05" y1="389" x2="237.2" y2="389" stroke="#000" stroke-width="1.15" />
<line x1="230.05" y1="417.75" x2="237.2" y2="417.75" stroke="#000" stroke-width="1.15" />
<rect x="227.33" y="396.50" width="12.59" height="14.25" fill="#5e5e5e" stroke="#000" stroke-width="1.15" />
<line x1="227.35" y1="404" x2="239.9" y2="404" stroke="#000" stroke-width="1.15" />
<line x1="233.625" y1="430.3" x2="233.625" y2="432.1" stroke="#000" stroke-width="0.9" />
<line x1="262.7" y1="334.2" x2="262.7" y2="430.85" stroke="#000" stroke-width="1.1" />
<line x1="262.15" y1="430.3" x2="360" y2="430.3" stroke="#000" stroke-width="1.1" />
<line x1="260.9" y1="430.3" x2="262.7" y2="430.3" stroke="#000" stroke-width="0.9" />
<text x="259.0" y="431.6" font-size="8.2" fill="#000" color="#000" text-anchor="end" textLength="5.0" lengthAdjust="spacingAndGlyphs" >0</text>
<line x1="260.9" y1="411.08" x2="262.7" y2="411.08" stroke="#000" stroke-width="0.9" />
<text x="259.0" y="412.38" font-size="8.2" fill="#000" color="#000" text-anchor="end" textLength="10.3" lengthAdjust="spacingAndGlyphs" >20</text>
<line x1="260.9" y1="391.86" x2="262.7" y2="391.86" stroke="#000" stroke-width="0.9" />
<text x="259.0" y="393.16" font-size="8.2" fill="#000" color="#000" text-anchor="end" textLength="10.3" lengthAdjust="spacingAndGlyphs" >40</text>
<line x1="260.9" y1="372.64" x2="262.7" y2="372.64" stroke="#000" stroke-width="0.9" />
<text x="259.0" y="373.94" font-size="8.2" fill="#000" color="#000" text-anchor="end" textLength="10.3" lengthAdjust="spacingAndGlyphs" >60</text>
<line x1="260.9" y1="353.41999999999996" x2="262.7" y2="353.41999999999996" stroke="#000" stroke-width="0.9" />
<text x="259.0" y="354.71999999999997" font-size="8.2" fill="#000" color="#000" text-anchor="end" textLength="10.3" lengthAdjust="spacingAndGlyphs" >80</text>
<line x1="260.9" y1="334.2" x2="262.7" y2="334.2" stroke="#000" stroke-width="0.9" />
<text x="259.0" y="335.5" font-size="8.2" fill="#000" color="#000" text-anchor="end" textLength="15.2" lengthAdjust="spacingAndGlyphs" >100</text>
<line x1="273.125" y1="371.75" x2="273.125" y2="381.25" stroke="#000" stroke-width="1.15" />
<line x1="273.125" y1="408.75" x2="273.125" y2="412.5" stroke="#000" stroke-width="1.15" />
<line x1="269.55" y1="371.75" x2="276.7" y2="371.75" stroke="#000" stroke-width="1.15" />
<line x1="269.55" y1="412.5" x2="276.7" y2="412.5" stroke="#000" stroke-width="1.15" />
<rect x="266.83" y="381.25" width="12.59" height="27.50" fill="#ffffff" stroke="#000" stroke-width="1.15" />
<line x1="266.85" y1="397.5" x2="279.4" y2="397.5" stroke="#000" stroke-width="1.15" />
<line x1="273.125" y1="430.3" x2="273.125" y2="432.1" stroke="#000" stroke-width="0.9" />
<line x1="286.875" y1="376.75" x2="286.875" y2="387.5" stroke="#000" stroke-width="1.15" />
<line x1="286.875" y1="403" x2="286.875" y2="410.5" stroke="#000" stroke-width="1.15" />
<line x1="283.3" y1="376.75" x2="290.45" y2="376.75" stroke="#000" stroke-width="1.15" />
<line x1="283.3" y1="410.5" x2="290.45" y2="410.5" stroke="#000" stroke-width="1.15" />
<rect x="280.58" y="387.50" width="12.59" height="15.50" fill="#c9c9c9" stroke="#000" stroke-width="1.15" />
<line x1="280.6" y1="395" x2="293.15" y2="395" stroke="#000" stroke-width="1.15" />
<line x1="286.875" y1="430.3" x2="286.875" y2="432.1" stroke="#000" stroke-width="0.9" />
<line x1="300.875" y1="395.75" x2="300.875" y2="400.75" stroke="#000" stroke-width="1.15" />
<line x1="300.875" y1="409.5" x2="300.875" y2="421.5" stroke="#000" stroke-width="1.15" />
<line x1="297.17" y1="395.75" x2="304.58" y2="395.75" stroke="#000" stroke-width="1.15" />
<line x1="297.17" y1="421.5" x2="304.58" y2="421.5" stroke="#000" stroke-width="1.15" />
<rect x="294.33" y="400.75" width="13.09" height="8.75" fill="#5e5e5e" stroke="#000" stroke-width="1.15" />
<line x1="294.35" y1="407.5" x2="307.4" y2="407.5" stroke="#000" stroke-width="1.15" />
<line x1="300.875" y1="430.3" x2="300.875" y2="432.1" stroke="#000" stroke-width="0.9" />
<line x1="321.375" y1="340" x2="321.375" y2="355" stroke="#000" stroke-width="1.15" />
<line x1="321.375" y1="402.75" x2="321.375" y2="412" stroke="#000" stroke-width="1.15" />
<line x1="317.8" y1="340" x2="324.95" y2="340" stroke="#000" stroke-width="1.15" />
<line x1="317.8" y1="412" x2="324.95" y2="412" stroke="#000" stroke-width="1.15" />
<rect x="315.08" y="355.00" width="12.59" height="47.75" fill="#ffffff" stroke="#000" stroke-width="1.15" />
<line x1="315.1" y1="388.25" x2="327.65" y2="388.25" stroke="#000" stroke-width="1.15" />
<line x1="321.375" y1="430.3" x2="321.375" y2="432.1" stroke="#000" stroke-width="0.9" />
<line x1="335.375" y1="356.25" x2="335.375" y2="378.5" stroke="#000" stroke-width="1.15" />
<line x1="335.375" y1="416.5" x2="335.375" y2="425.25" stroke="#000" stroke-width="1.15" />
<line x1="331.67" y1="356.25" x2="339.08" y2="356.25" stroke="#000" stroke-width="1.15" />
<line x1="331.67" y1="425.25" x2="339.08" y2="425.25" stroke="#000" stroke-width="1.15" />
<rect x="328.83" y="378.50" width="13.09" height="38.00" fill="#c9c9c9" stroke="#000" stroke-width="1.15" />
<line x1="328.85" y1="398.75" x2="341.9" y2="398.75" stroke="#000" stroke-width="1.15" />
<line x1="335.375" y1="430.3" x2="335.375" y2="432.1" stroke="#000" stroke-width="0.9" />
<line x1="349.375" y1="385.25" x2="349.375" y2="393.25" stroke="#000" stroke-width="1.15" />
<line x1="349.375" y1="419.5" x2="349.375" y2="424.5" stroke="#000" stroke-width="1.15" />
<line x1="345.8" y1="385.25" x2="352.95" y2="385.25" stroke="#000" stroke-width="1.15" />
<line x1="345.8" y1="424.5" x2="352.95" y2="424.5" stroke="#000" stroke-width="1.15" />
<rect x="343.08" y="393.25" width="12.59" height="26.25" fill="#5e5e5e" stroke="#000" stroke-width="1.15" />
<line x1="343.1" y1="404.75" x2="355.65" y2="404.75" stroke="#000" stroke-width="1.15" />
<line x1="349.375" y1="430.3" x2="349.375" y2="432.1" stroke="#000" stroke-width="0.9" />
<line x1="422.3" y1="333.9" x2="422.3" y2="430.95" stroke="#000" stroke-width="1.1" />
<line x1="421.75" y1="430.4" x2="518" y2="430.4" stroke="#000" stroke-width="1.1" />
<line x1="420.5" y1="430.4" x2="422.3" y2="430.4" stroke="#000" stroke-width="0.9" />
<text x="418.5" y="430.2" font-size="8.2" fill="#000" color="#000" text-anchor="end" textLength="5.0" lengthAdjust="spacingAndGlyphs" >0</text>
<line x1="420.5" y1="411.09999999999997" x2="422.3" y2="411.09999999999997" stroke="#000" stroke-width="0.9" />
<text x="418.5" y="410.9" font-size="8.2" fill="#000" color="#000" text-anchor="end" textLength="10.3" lengthAdjust="spacingAndGlyphs" >20</text>
<line x1="420.5" y1="391.79999999999995" x2="422.3" y2="391.79999999999995" stroke="#000" stroke-width="0.9" />
<text x="418.5" y="391.59999999999997" font-size="8.2" fill="#000" color="#000" text-anchor="end" textLength="10.3" lengthAdjust="spacingAndGlyphs" >40</text>
<line x1="420.5" y1="372.5" x2="422.3" y2="372.5" stroke="#000" stroke-width="0.9" />
<text x="418.5" y="372.3" font-size="8.2" fill="#000" color="#000" text-anchor="end" textLength="10.3" lengthAdjust="spacingAndGlyphs" >60</text>
<line x1="420.5" y1="353.2" x2="422.3" y2="353.2" stroke="#000" stroke-width="0.9" />
<text x="418.5" y="353.0" font-size="8.2" fill="#000" color="#000" text-anchor="end" textLength="10.3" lengthAdjust="spacingAndGlyphs" >80</text>
<line x1="420.5" y1="333.9" x2="422.3" y2="333.9" stroke="#000" stroke-width="0.9" />
<text x="418.5" y="333.7" font-size="8.2" fill="#000" color="#000" text-anchor="end" textLength="15.2" lengthAdjust="spacingAndGlyphs" >100</text>
<line x1="432.45" y1="358.9" x2="432.45" y2="382.8" stroke="#000" stroke-width="1.15" />
<line x1="432.45" y1="407.4" x2="432.45" y2="411.7" stroke="#000" stroke-width="1.15" />
<line x1="428.94" y1="358.9" x2="435.96" y2="358.9" stroke="#000" stroke-width="1.15" />
<line x1="428.94" y1="411.7" x2="435.96" y2="411.7" stroke="#000" stroke-width="1.15" />
<rect x="426.28" y="382.80" width="12.34" height="24.60" fill="#ffffff" stroke="#000" stroke-width="1.15" />
<line x1="426.3" y1="393.8" x2="438.59999999999997" y2="393.8" stroke="#000" stroke-width="1.15" />
<line x1="432.45" y1="430.4" x2="432.45" y2="432.2" stroke="#000" stroke-width="0.9" />
<line x1="446.4" y1="357.7" x2="446.4" y2="377.7" stroke="#000" stroke-width="1.15" />
<line x1="446.4" y1="407.4" x2="446.4" y2="411.7" stroke="#000" stroke-width="1.15" />
<line x1="442.65599999999995" y1="357.7" x2="450.144" y2="357.7" stroke="#000" stroke-width="1.15" />
<line x1="442.65599999999995" y1="411.7" x2="450.144" y2="411.7" stroke="#000" stroke-width="1.15" />
<rect x="439.78" y="377.70" width="13.24" height="29.70" fill="#c9c9c9" stroke="#000" stroke-width="1.15" />
<line x1="439.8" y1="392" x2="453.0" y2="392" stroke="#000" stroke-width="1.15" />
<line x1="446.4" y1="430.4" x2="446.4" y2="432.2" stroke="#000" stroke-width="0.9" />
<line x1="460.4" y1="371.9" x2="460.4" y2="390.6" stroke="#000" stroke-width="1.15" />
<line x1="460.4" y1="409.7" x2="460.4" y2="422.6" stroke="#000" stroke-width="1.15" />
<line x1="456.864" y1="371.9" x2="463.936" y2="371.9" stroke="#000" stroke-width="1.15" />
<line x1="456.864" y1="422.6" x2="463.936" y2="422.6" stroke="#000" stroke-width="1.15" />
<rect x="454.18" y="390.60" width="12.44" height="19.10" fill="#5e5e5e" stroke="#000" stroke-width="1.15" />
<line x1="454.20000000000005" y1="403" x2="466.59999999999997" y2="403" stroke="#000" stroke-width="1.15" />
<line x1="460.4" y1="430.4" x2="460.4" y2="432.2" stroke="#000" stroke-width="0.9" />
<line x1="481.05" y1="338.5" x2="481.05" y2="339.6" stroke="#000" stroke-width="1.15" />
<line x1="481.05" y1="377.7" x2="481.05" y2="407.9" stroke="#000" stroke-width="1.15" />
<line x1="477.28000000000003" y1="338.5" x2="484.82" y2="338.5" stroke="#000" stroke-width="1.15" />
<line x1="477.28000000000003" y1="407.9" x2="484.82" y2="407.9" stroke="#000" stroke-width="1.15" />
<rect x="474.38" y="339.60" width="13.34" height="38.10" fill="#ffffff" stroke="#000" stroke-width="1.15" />
<line x1="474.40000000000003" y1="342.8" x2="487.7" y2="342.8" stroke="#000" stroke-width="1.15" />
<line x1="481.05" y1="430.4" x2="481.05" y2="432.2" stroke="#000" stroke-width="0.9" />
<line x1="495.05" y1="346.8" x2="495.05" y2="383.4" stroke="#000" stroke-width="1.15" />
<line x1="495.05" y1="424.7" x2="495.05" y2="428.1" stroke="#000" stroke-width="1.15" />
<line x1="491.54" y1="346.8" x2="498.56" y2="346.8" stroke="#000" stroke-width="1.15" />
<line x1="491.54" y1="428.1" x2="498.56" y2="428.1" stroke="#000" stroke-width="1.15" />
<rect x="488.88" y="383.40" width="12.34" height="41.30" fill="#c9c9c9" stroke="#000" stroke-width="1.15" />
<line x1="488.90000000000003" y1="418.9" x2="501.2" y2="418.9" stroke="#000" stroke-width="1.15" />
<line x1="495.05" y1="430.4" x2="495.05" y2="432.2" stroke="#000" stroke-width="0.9" />
<line x1="508.75" y1="399.6" x2="508.75" y2="403" stroke="#000" stroke-width="1.15" />
<line x1="508.75" y1="423.2" x2="508.75" y2="426.1" stroke="#000" stroke-width="1.15" />
<line x1="505.13599999999997" y1="399.6" x2="512.364" y2="399.6" stroke="#000" stroke-width="1.15" />
<line x1="505.13599999999997" y1="426.1" x2="512.364" y2="426.1" stroke="#000" stroke-width="1.15" />
<rect x="502.38" y="403.00" width="12.74" height="20.20" fill="#5e5e5e" stroke="#000" stroke-width="1.15" />
<line x1="502.40000000000003" y1="420.3" x2="515.1" y2="420.3" stroke="#000" stroke-width="1.15" />
<line x1="508.75" y1="430.4" x2="508.75" y2="432.2" stroke="#000" stroke-width="0.9" />
<line x1="206.0" y1="229.4" x2="232.0" y2="229.4" stroke="#000" stroke-width="1.05" />
<polygon points="213.30,223.00 214.01,224.63 215.77,224.80 214.44,225.97 214.83,227.70 213.30,226.80 211.77,227.70 212.16,225.97 210.83,224.80 212.59,224.63" fill="#111"/>
<polygon points="219.00,223.00 219.71,224.63 221.47,224.80 220.14,225.97 220.53,227.70 219.00,226.80 217.47,227.70 217.86,225.97 216.53,224.80 218.29,224.63" fill="#111"/>
<polygon points="224.70,223.00 225.41,224.63 227.17,224.80 225.84,225.97 226.23,227.70 224.70,226.80 223.17,227.70 223.56,225.97 222.23,224.80 223.99,224.63" fill="#111"/>
<line x1="205.1" y1="238.6" x2="218.1" y2="238.6" stroke="#000" stroke-width="1.05" />
<polygon points="205.50,232.10 206.21,233.73 207.97,233.90 206.64,235.07 207.03,236.80 205.50,235.90 203.97,236.80 204.36,235.07 203.03,233.90 204.79,233.73" fill="#111"/>
<polygon points="211.20,232.10 211.91,233.73 213.67,233.90 212.34,235.07 212.73,236.80 211.20,235.90 209.67,236.80 210.06,235.07 208.73,233.90 210.49,233.73" fill="#111"/>
<polygon points="216.90,232.10 217.61,233.73 219.37,233.90 218.04,235.07 218.43,236.80 216.90,235.90 215.37,236.80 215.76,235.07 214.43,233.90 216.19,233.73" fill="#111"/>
<line x1="220.2" y1="238.6" x2="232.5" y2="238.6" stroke="#000" stroke-width="1.05" />
<polygon points="225.60,232.10 226.31,233.73 228.07,233.90 226.74,235.07 227.13,236.80 225.60,235.90 224.07,236.80 224.46,235.07 223.13,233.90 224.89,233.73" fill="#111"/>
<line x1="323.0" y1="197.8" x2="349.0" y2="197.8" stroke="#000" stroke-width="1.05" />
<polygon points="330.50,191.50 331.21,193.13 332.97,193.30 331.64,194.47 332.03,196.20 330.50,195.30 328.97,196.20 329.36,194.47 328.03,193.30 329.79,193.13" fill="#111"/>
<polygon points="336.20,191.50 336.91,193.13 338.67,193.30 337.34,194.47 337.73,196.20 336.20,195.30 334.67,196.20 335.06,194.47 333.73,193.30 335.49,193.13" fill="#111"/>
<polygon points="341.90,191.50 342.61,193.13 344.37,193.30 343.04,194.47 343.43,196.20 341.90,195.30 340.37,196.20 340.76,194.47 339.43,193.30 341.19,193.13" fill="#111"/>
<line x1="321.5" y1="207.3" x2="334.8" y2="207.3" stroke="#000" stroke-width="1.05" />
<polygon points="322.60,200.40 323.31,202.03 325.07,202.20 323.74,203.37 324.13,205.10 322.60,204.20 321.07,205.10 321.46,203.37 320.13,202.20 321.89,202.03" fill="#111"/>
<polygon points="328.30,200.40 329.01,202.03 330.77,202.20 329.44,203.37 329.83,205.10 328.30,204.20 326.77,205.10 327.16,203.37 325.83,202.20 327.59,202.03" fill="#111"/>
<polygon points="334.00,200.40 334.71,202.03 336.47,202.20 335.14,203.37 335.53,205.10 334.00,204.20 332.47,205.10 332.86,203.37 331.53,202.20 333.29,202.03" fill="#111"/>
<line x1="433.3" y1="206.1" x2="459.6" y2="206.1" stroke="#000" stroke-width="1.05" />
<polygon points="440.80,199.70 441.51,201.33 443.27,201.50 441.94,202.67 442.33,204.40 440.80,203.50 439.27,204.40 439.66,202.67 438.33,201.50 440.09,201.33" fill="#111"/>
<polygon points="446.50,199.70 447.21,201.33 448.97,201.50 447.64,202.67 448.03,204.40 446.50,203.50 444.97,204.40 445.36,202.67 444.03,201.50 445.79,201.33" fill="#111"/>
<polygon points="452.20,199.70 452.91,201.33 454.67,201.50 453.34,202.67 453.73,204.40 452.20,203.50 450.67,204.40 451.06,202.67 449.73,201.50 451.49,201.33" fill="#111"/>
<line x1="432.3" y1="215.8" x2="445.4" y2="215.8" stroke="#000" stroke-width="1.05" />
<polygon points="432.90,208.70 433.61,210.33 435.37,210.50 434.04,211.67 434.43,213.40 432.90,212.50 431.37,213.40 431.76,211.67 430.43,210.50 432.19,210.33" fill="#111"/>
<polygon points="438.60,208.70 439.31,210.33 441.07,210.50 439.74,211.67 440.13,213.40 438.60,212.50 437.07,213.40 437.46,211.67 436.13,210.50 437.89,210.33" fill="#111"/>
<polygon points="444.30,208.70 445.01,210.33 446.77,210.50 445.44,211.67 445.83,213.40 444.30,212.50 442.77,213.40 443.16,211.67 441.83,210.50 443.59,210.33" fill="#111"/>
<line x1="448.4" y1="215.8" x2="461.3" y2="215.8" stroke="#000" stroke-width="1.05" />
<polygon points="454.40,208.70 455.11,210.33 456.87,210.50 455.54,211.67 455.93,213.40 454.40,212.50 452.87,213.40 453.26,211.67 451.93,210.50 453.69,210.33" fill="#111"/>
<line x1="482.1" y1="192.8" x2="508.9" y2="192.8" stroke="#000" stroke-width="1.05" />
<polygon points="489.50,186.20 490.21,187.83 491.97,188.00 490.64,189.17 491.03,190.90 489.50,190.00 487.97,190.90 488.36,189.17 487.03,188.00 488.79,187.83" fill="#111"/>
<polygon points="495.20,186.20 495.91,187.83 497.67,188.00 496.34,189.17 496.73,190.90 495.20,190.00 493.67,190.90 494.06,189.17 492.73,188.00 494.49,187.83" fill="#111"/>
<polygon points="500.90,186.20 501.61,187.83 503.37,188.00 502.04,189.17 502.43,190.90 500.90,190.00 499.37,190.90 499.76,189.17 498.43,188.00 500.19,187.83" fill="#111"/>
<line x1="480.7" y1="202.3" x2="495.0" y2="202.3" stroke="#000" stroke-width="1.05" />
<polygon points="481.80,195.40 482.51,197.03 484.27,197.20 482.94,198.37 483.33,200.10 481.80,199.20 480.27,200.10 480.66,198.37 479.33,197.20 481.09,197.03" fill="#111"/>
<polygon points="487.50,195.40 488.21,197.03 489.97,197.20 488.64,198.37 489.03,200.10 487.50,199.20 485.97,200.10 486.36,198.37 485.03,197.20 486.79,197.03" fill="#111"/>
<polygon points="493.20,195.40 493.91,197.03 495.67,197.20 494.34,198.37 494.73,200.10 493.20,199.20 491.67,200.10 492.06,198.37 490.73,197.20 492.49,197.03" fill="#111"/>
<line x1="323.1" y1="329.8" x2="349.2" y2="329.8" stroke="#000" stroke-width="1.05" />
<polygon points="333.50,323.30 334.21,324.93 335.97,325.10 334.64,326.27 335.03,328.00 333.50,327.10 331.97,328.00 332.36,326.27 331.03,325.10 332.79,324.93" fill="#111"/>
<polygon points="339.50,323.30 340.21,324.93 341.97,325.10 340.64,326.27 341.03,328.00 339.50,327.10 337.97,328.00 338.36,326.27 337.03,325.10 338.79,324.93" fill="#111"/>
<line x1="322.3" y1="337.9" x2="335.6" y2="337.9" stroke="#000" stroke-width="1.05" />
<polygon points="325.40,331.00 326.11,332.63 327.87,332.80 326.54,333.97 326.93,335.70 325.40,334.80 323.87,335.70 324.26,333.97 322.93,332.80 324.69,332.63" fill="#111"/>
<polygon points="331.40,331.00 332.11,332.63 333.87,332.80 332.54,333.97 332.93,335.70 331.40,334.80 329.87,335.70 330.26,333.97 328.93,332.80 330.69,332.63" fill="#111"/>
<line x1="481.7" y1="325.6" x2="507.9" y2="325.6" stroke="#000" stroke-width="1.05" />
<polygon points="489.20,318.90 489.91,320.53 491.67,320.70 490.34,321.87 490.73,323.60 489.20,322.70 487.67,323.60 488.06,321.87 486.73,320.70 488.49,320.53" fill="#111"/>
<polygon points="494.90,318.90 495.61,320.53 497.37,320.70 496.04,321.87 496.43,323.60 494.90,322.70 493.37,323.60 493.76,321.87 492.43,320.70 494.19,320.53" fill="#111"/>
<polygon points="500.60,318.90 501.31,320.53 503.07,320.70 501.74,321.87 502.13,323.60 500.60,322.70 499.07,323.60 499.46,321.87 498.13,320.70 499.89,320.53" fill="#111"/>
<line x1="480.2" y1="335.1" x2="493.8" y2="335.1" stroke="#000" stroke-width="1.05" />
<polygon points="481.20,328.00 481.91,329.63 483.67,329.80 482.34,330.97 482.73,332.70 481.20,331.80 479.67,332.70 480.06,330.97 478.73,329.80 480.49,329.63" fill="#111"/>
<polygon points="486.90,328.00 487.61,329.63 489.37,329.80 488.04,330.97 488.43,332.70 486.90,331.80 485.37,332.70 485.76,330.97 484.43,329.80 486.19,329.63" fill="#111"/>
<polygon points="492.60,328.00 493.31,329.63 495.07,329.80 493.74,330.97 494.13,332.70 492.60,331.80 491.07,332.70 491.46,330.97 490.13,329.80 491.89,329.63" fill="#111"/>
<text x="41.64999999999999" y="308.4" font-size="8.2" fill="#000" color="#000" text-anchor="middle" textLength="9.0" lengthAdjust="spacingAndGlyphs" >15</text>
<text x="55.55" y="308.4" font-size="8.2" fill="#000" color="#000" text-anchor="middle" textLength="9.0" lengthAdjust="spacingAndGlyphs" >19</text>
<text x="69.5" y="308.4" font-size="8.2" fill="#000" color="#000" text-anchor="middle" textLength="4.7" lengthAdjust="spacingAndGlyphs" >9</text>
<text x="89.89999999999999" y="308.4" font-size="8.2" fill="#000" color="#000" text-anchor="middle" textLength="9.0" lengthAdjust="spacingAndGlyphs" >60</text>
<text x="103.60000000000001" y="308.4" font-size="8.2" fill="#000" color="#000" text-anchor="middle" textLength="9.0" lengthAdjust="spacingAndGlyphs" >67</text>
<text x="117.95" y="308.4" font-size="8.2" fill="#000" color="#000" text-anchor="middle" textLength="9.0" lengthAdjust="spacingAndGlyphs" >19</text>
<text x="156.875" y="308.4" font-size="8.2" fill="#000" color="#000" text-anchor="middle" textLength="9.0" lengthAdjust="spacingAndGlyphs" >15</text>
<text x="170.625" y="308.4" font-size="8.2" fill="#000" color="#000" text-anchor="middle" textLength="9.0" lengthAdjust="spacingAndGlyphs" >19</text>
<text x="184.8" y="308.4" font-size="8.2" fill="#000" color="#000" text-anchor="middle" textLength="4.7" lengthAdjust="spacingAndGlyphs" >9</text>
<text x="205.125" y="308.4" font-size="8.2" fill="#000" color="#000" text-anchor="middle" textLength="9.0" lengthAdjust="spacingAndGlyphs" >60</text>
<text x="218.875" y="308.4" font-size="8.2" fill="#000" color="#000" text-anchor="middle" textLength="9.0" lengthAdjust="spacingAndGlyphs" >67</text>
<text x="233.0" y="308.4" font-size="8.2" fill="#000" color="#000" text-anchor="middle" textLength="9.0" lengthAdjust="spacingAndGlyphs" >19</text>
<text x="273.625" y="308.4" font-size="8.2" fill="#000" color="#000" text-anchor="middle" textLength="9.0" lengthAdjust="spacingAndGlyphs" >15</text>
<text x="287.125" y="308.4" font-size="8.2" fill="#000" color="#000" text-anchor="middle" textLength="9.0" lengthAdjust="spacingAndGlyphs" >19</text>
<text x="301.125" y="308.4" font-size="8.2" fill="#000" color="#000" text-anchor="middle" textLength="4.7" lengthAdjust="spacingAndGlyphs" >8</text>
<text x="322.375" y="308.4" font-size="8.2" fill="#000" color="#000" text-anchor="middle" textLength="9.0" lengthAdjust="spacingAndGlyphs" >59</text>
<text x="336.125" y="308.4" font-size="8.2" fill="#000" color="#000" text-anchor="middle" textLength="9.0" lengthAdjust="spacingAndGlyphs" >65</text>
<text x="350.125" y="308.4" font-size="8.2" fill="#000" color="#000" text-anchor="middle" textLength="9.0" lengthAdjust="spacingAndGlyphs" >19</text>
<text x="432.1" y="308.4" font-size="8.2" fill="#000" color="#000" text-anchor="middle" textLength="9.0" lengthAdjust="spacingAndGlyphs" >43</text>
<text x="446.25" y="308.4" font-size="8.2" fill="#000" color="#000" text-anchor="middle" textLength="9.0" lengthAdjust="spacingAndGlyphs" >40</text>
<text x="460.35" y="308.4" font-size="8.2" fill="#000" color="#000" text-anchor="middle" textLength="9.0" lengthAdjust="spacingAndGlyphs" >13</text>
<text x="481.0" y="308.4" font-size="8.2" fill="#000" color="#000" text-anchor="middle" textLength="9.0" lengthAdjust="spacingAndGlyphs" >16</text>
<text x="494.95" y="308.4" font-size="8.2" fill="#000" color="#000" text-anchor="middle" textLength="9.0" lengthAdjust="spacingAndGlyphs" >25</text>
<text x="508.95000000000005" y="308.4" font-size="8.2" fill="#000" color="#000" text-anchor="middle" textLength="4.7" lengthAdjust="spacingAndGlyphs" >6</text>
<text x="25.6" y="308.4" font-size="8.2" fill="#000" color="#000" text-anchor="end" textLength="11.2" lengthAdjust="spacingAndGlyphs" >n =</text>
<text x="417.6" y="308.4" font-size="8.2" fill="#000" color="#000" text-anchor="end" textLength="11.2" lengthAdjust="spacingAndGlyphs" >n =</text>
<text x="42.125" y="441.6" font-size="8.2" fill="#000" color="#000" text-anchor="middle" textLength="9.0" lengthAdjust="spacingAndGlyphs" >14</text>
<text x="55.875" y="441.6" font-size="8.2" fill="#000" color="#000" text-anchor="middle" textLength="9.0" lengthAdjust="spacingAndGlyphs" >19</text>
<text x="69.875" y="441.6" font-size="8.2" fill="#000" color="#000" text-anchor="middle" textLength="4.7" lengthAdjust="spacingAndGlyphs" >9</text>
<text x="90.5" y="441.6" font-size="8.2" fill="#000" color="#000" text-anchor="middle" textLength="9.0" lengthAdjust="spacingAndGlyphs" >58</text>
<text x="104.25" y="441.6" font-size="8.2" fill="#000" color="#000" text-anchor="middle" textLength="9.0" lengthAdjust="spacingAndGlyphs" >63</text>
<text x="118.55000000000001" y="441.6" font-size="8.2" fill="#000" color="#000" text-anchor="middle" textLength="9.0" lengthAdjust="spacingAndGlyphs" >19</text>
<text x="158.125" y="441.6" font-size="8.2" fill="#000" color="#000" text-anchor="middle" textLength="9.0" lengthAdjust="spacingAndGlyphs" >14</text>
<text x="171.875" y="441.6" font-size="8.2" fill="#000" color="#000" text-anchor="middle" textLength="9.0" lengthAdjust="spacingAndGlyphs" >19</text>
<text x="185.625" y="441.6" font-size="8.2" fill="#000" color="#000" text-anchor="middle" textLength="4.7" lengthAdjust="spacingAndGlyphs" >9</text>
<text x="206.125" y="441.6" font-size="8.2" fill="#000" color="#000" text-anchor="middle" textLength="9.0" lengthAdjust="spacingAndGlyphs" >58</text>
<text x="219.875" y="441.6" font-size="8.2" fill="#000" color="#000" text-anchor="middle" textLength="9.0" lengthAdjust="spacingAndGlyphs" >63</text>
<text x="233.625" y="441.6" font-size="8.2" fill="#000" color="#000" text-anchor="middle" textLength="9.0" lengthAdjust="spacingAndGlyphs" >19</text>
<text x="274.625" y="441.6" font-size="8.2" fill="#000" color="#000" text-anchor="middle" textLength="9.0" lengthAdjust="spacingAndGlyphs" >14</text>
<text x="288.375" y="441.6" font-size="8.2" fill="#000" color="#000" text-anchor="middle" textLength="9.0" lengthAdjust="spacingAndGlyphs" >19</text>
<text x="302.375" y="441.6" font-size="8.2" fill="#000" color="#000" text-anchor="middle" textLength="4.7" lengthAdjust="spacingAndGlyphs" >8</text>
<text x="322.875" y="441.6" font-size="8.2" fill="#000" color="#000" text-anchor="middle" textLength="9.0" lengthAdjust="spacingAndGlyphs" >57</text>
<text x="336.875" y="441.6" font-size="8.2" fill="#000" color="#000" text-anchor="middle" textLength="9.0" lengthAdjust="spacingAndGlyphs" >61</text>
<text x="350.875" y="441.6" font-size="8.2" fill="#000" color="#000" text-anchor="middle" textLength="9.0" lengthAdjust="spacingAndGlyphs" >19</text>
<text x="433.65" y="441.6" font-size="8.2" fill="#000" color="#000" text-anchor="middle" textLength="9.0" lengthAdjust="spacingAndGlyphs" >41</text>
<text x="447.59999999999997" y="441.6" font-size="8.2" fill="#000" color="#000" text-anchor="middle" textLength="9.0" lengthAdjust="spacingAndGlyphs" >37</text>
<text x="461.59999999999997" y="441.6" font-size="8.2" fill="#000" color="#000" text-anchor="middle" textLength="9.0" lengthAdjust="spacingAndGlyphs" >13</text>
<text x="482.25" y="441.6" font-size="8.2" fill="#000" color="#000" text-anchor="middle" textLength="9.0" lengthAdjust="spacingAndGlyphs" >16</text>
<text x="496.25" y="441.6" font-size="8.2" fill="#000" color="#000" text-anchor="middle" textLength="9.0" lengthAdjust="spacingAndGlyphs" >24</text>
<text x="509.95" y="441.6" font-size="8.2" fill="#000" color="#000" text-anchor="middle" textLength="4.7" lengthAdjust="spacingAndGlyphs" >6</text>
<text x="26.4" y="441.6" font-size="8.2" fill="#000" color="#000" text-anchor="end" textLength="11.2" lengthAdjust="spacingAndGlyphs" >n =</text>
<text x="418.2" y="441.6" font-size="8.2" fill="#000" color="#000" text-anchor="end" textLength="11.2" lengthAdjust="spacingAndGlyphs" >n =</text>
<text x="42.125" y="450.7" font-size="7.2" fill="#000" color="#000" text-anchor="middle" style="stroke-width:0.4px">+</text>
<text x="42.125" y="460.2" font-size="7.2" fill="#000" color="#000" text-anchor="middle" style="stroke-width:0.4px">-</text>
<text x="55.875" y="450.7" font-size="7.2" fill="#000" color="#000" text-anchor="middle" style="stroke-width:0.4px">+</text>
<text x="55.875" y="460.2" font-size="7.2" fill="#000" color="#000" text-anchor="middle" style="stroke-width:0.4px">+</text>
<text x="69.875" y="450.7" font-size="7.2" fill="#000" color="#000" text-anchor="middle" style="stroke-width:0.4px">-</text>
<text x="69.875" y="460.2" font-size="7.2" fill="#000" color="#000" text-anchor="middle" style="stroke-width:0.4px">+</text>
<text x="90.5" y="450.7" font-size="7.2" fill="#000" color="#000" text-anchor="middle" style="stroke-width:0.4px">+</text>
<text x="90.5" y="460.2" font-size="7.2" fill="#000" color="#000" text-anchor="middle" style="stroke-width:0.4px">-</text>
<text x="104.25" y="450.7" font-size="7.2" fill="#000" color="#000" text-anchor="middle" style="stroke-width:0.4px">+</text>
<text x="104.25" y="460.2" font-size="7.2" fill="#000" color="#000" text-anchor="middle" style="stroke-width:0.4px">+</text>
<text x="118.55000000000001" y="450.7" font-size="7.2" fill="#000" color="#000" text-anchor="middle" style="stroke-width:0.4px">-</text>
<text x="118.55000000000001" y="460.2" font-size="7.2" fill="#000" color="#000" text-anchor="middle" style="stroke-width:0.4px">+</text>
<text x="158.125" y="450.7" font-size="7.2" fill="#000" color="#000" text-anchor="middle" style="stroke-width:0.4px">+</text>
<text x="158.125" y="460.2" font-size="7.2" fill="#000" color="#000" text-anchor="middle" style="stroke-width:0.4px">-</text>
<text x="171.875" y="450.7" font-size="7.2" fill="#000" color="#000" text-anchor="middle" style="stroke-width:0.4px">+</text>
<text x="171.875" y="460.2" font-size="7.2" fill="#000" color="#000" text-anchor="middle" style="stroke-width:0.4px">+</text>
<text x="185.625" y="450.7" font-size="7.2" fill="#000" color="#000" text-anchor="middle" style="stroke-width:0.4px">-</text>
<text x="185.625" y="460.2" font-size="7.2" fill="#000" color="#000" text-anchor="middle" style="stroke-width:0.4px">+</text>
<text x="206.125" y="450.7" font-size="7.2" fill="#000" color="#000" text-anchor="middle" style="stroke-width:0.4px">+</text>
<text x="206.125" y="460.2" font-size="7.2" fill="#000" color="#000" text-anchor="middle" style="stroke-width:0.4px">-</text>
<text x="219.875" y="450.7" font-size="7.2" fill="#000" color="#000" text-anchor="middle" style="stroke-width:0.4px">+</text>
<text x="219.875" y="460.2" font-size="7.2" fill="#000" color="#000" text-anchor="middle" style="stroke-width:0.4px">+</text>
<text x="233.625" y="450.7" font-size="7.2" fill="#000" color="#000" text-anchor="middle" style="stroke-width:0.4px">-</text>
<text x="233.625" y="460.2" font-size="7.2" fill="#000" color="#000" text-anchor="middle" style="stroke-width:0.4px">+</text>
<text x="274.625" y="450.7" font-size="7.2" fill="#000" color="#000" text-anchor="middle" style="stroke-width:0.4px">+</text>
<text x="274.625" y="460.2" font-size="7.2" fill="#000" color="#000" text-anchor="middle" style="stroke-width:0.4px">-</text>
<text x="288.375" y="450.7" font-size="7.2" fill="#000" color="#000" text-anchor="middle" style="stroke-width:0.4px">+</text>
<text x="288.375" y="460.2" font-size="7.2" fill="#000" color="#000" text-anchor="middle" style="stroke-width:0.4px">+</text>
<text x="302.375" y="450.7" font-size="7.2" fill="#000" color="#000" text-anchor="middle" style="stroke-width:0.4px">-</text>
<text x="302.375" y="460.2" font-size="7.2" fill="#000" color="#000" text-anchor="middle" style="stroke-width:0.4px">+</text>
<text x="322.875" y="450.7" font-size="7.2" fill="#000" color="#000" text-anchor="middle" style="stroke-width:0.4px">+</text>
<text x="322.875" y="460.2" font-size="7.2" fill="#000" color="#000" text-anchor="middle" style="stroke-width:0.4px">-</text>
<text x="336.875" y="450.7" font-size="7.2" fill="#000" color="#000" text-anchor="middle" style="stroke-width:0.4px">+</text>
<text x="336.875" y="460.2" font-size="7.2" fill="#000" color="#000" text-anchor="middle" style="stroke-width:0.4px">+</text>
<text x="350.875" y="450.7" font-size="7.2" fill="#000" color="#000" text-anchor="middle" style="stroke-width:0.4px">-</text>
<text x="350.875" y="460.2" font-size="7.2" fill="#000" color="#000" text-anchor="middle" style="stroke-width:0.4px">+</text>
<text x="433.65" y="450.7" font-size="7.2" fill="#000" color="#000" text-anchor="middle" style="stroke-width:0.4px">+</text>
<text x="433.65" y="460.2" font-size="7.2" fill="#000" color="#000" text-anchor="middle" style="stroke-width:0.4px">-</text>
<text x="447.59999999999997" y="450.7" font-size="7.2" fill="#000" color="#000" text-anchor="middle" style="stroke-width:0.4px">+</text>
<text x="447.59999999999997" y="460.2" font-size="7.2" fill="#000" color="#000" text-anchor="middle" style="stroke-width:0.4px">+</text>
<text x="461.59999999999997" y="450.7" font-size="7.2" fill="#000" color="#000" text-anchor="middle" style="stroke-width:0.4px">-</text>
<text x="461.59999999999997" y="460.2" font-size="7.2" fill="#000" color="#000" text-anchor="middle" style="stroke-width:0.4px">+</text>
<text x="482.25" y="450.7" font-size="7.2" fill="#000" color="#000" text-anchor="middle" style="stroke-width:0.4px">+</text>
<text x="482.25" y="460.2" font-size="7.2" fill="#000" color="#000" text-anchor="middle" style="stroke-width:0.4px">-</text>
<text x="496.25" y="450.7" font-size="7.2" fill="#000" color="#000" text-anchor="middle" style="stroke-width:0.4px">+</text>
<text x="496.25" y="460.2" font-size="7.2" fill="#000" color="#000" text-anchor="middle" style="stroke-width:0.4px">+</text>
<text x="509.95" y="450.7" font-size="7.2" fill="#000" color="#000" text-anchor="middle" style="stroke-width:0.4px">-</text>
<text x="509.95" y="460.2" font-size="7.2" fill="#000" color="#000" text-anchor="middle" style="stroke-width:0.4px">+</text>
<text x="26.3" y="451.0" font-size="8.3" fill="#000" color="#000" text-anchor="end" textLength="10.3" lengthAdjust="spacingAndGlyphs" >C1</text>
<text x="26.3" y="460.6" font-size="8.3" fill="#000" color="#000" text-anchor="end" textLength="10.3" lengthAdjust="spacingAndGlyphs" >C2</text>
<text x="418.2" y="451.0" font-size="8.3" fill="#000" color="#000" text-anchor="end" textLength="10.3" lengthAdjust="spacingAndGlyphs" >C1</text>
<text x="418.2" y="460.6" font-size="8.3" fill="#000" color="#000" text-anchor="end" textLength="10.3" lengthAdjust="spacingAndGlyphs" >C2</text>
<text x="26.5" y="469.8" font-size="8.3" fill="#000" color="#000" text-anchor="end" textLength="18.6" lengthAdjust="spacingAndGlyphs" >CMV</text>
<text x="419.3" y="469.8" font-size="8.3" fill="#000" color="#000" text-anchor="end" >Outlier</text>
<text x="55.875" y="469.8" font-size="8.3" fill="#000" color="#000" text-anchor="middle" >no</text>
<text x="104.25" y="469.8" font-size="8.3" fill="#000" color="#000" text-anchor="middle" >yes</text>
<text x="171.875" y="469.8" font-size="8.3" fill="#000" color="#000" text-anchor="middle" >no</text>
<text x="219.875" y="469.8" font-size="8.3" fill="#000" color="#000" text-anchor="middle" >yes</text>
<text x="288.375" y="469.8" font-size="8.3" fill="#000" color="#000" text-anchor="middle" >no</text>
<text x="336.875" y="469.8" font-size="8.3" fill="#000" color="#000" text-anchor="middle" >yes</text>
<text x="447.59999999999997" y="469.8" font-size="8.3" fill="#000" color="#000" text-anchor="middle" >no</text>
<text x="496.25" y="469.8" font-size="8.3" fill="#000" color="#000" text-anchor="middle" >yes</text>
<text x="9.5" y="249.4" font-size="10.4" fill="#000" color="#000" text-anchor="middle" textLength="47.4" lengthAdjust="spacingAndGlyphs" transform="rotate(-90 9.5 249.4)" >% KIR2DL1</text>
<text x="9.5" y="382.5" font-size="10.4" fill="#000" color="#000" text-anchor="middle" textLength="47.4" lengthAdjust="spacingAndGlyphs" transform="rotate(-90 9.5 382.5)" >% KIR2DL3</text>
<text x="391.0" y="252.2" font-size="10.6" fill="#000" color="#000" text-anchor="middle" textLength="63.3" lengthAdjust="spacingAndGlyphs" transform="rotate(-90 391.0 252.2)" >% of KIR2DL1</text>
<text x="403.7" y="249.4" font-size="10.6" fill="#000" color="#000" text-anchor="middle" textLength="86.7" lengthAdjust="spacingAndGlyphs" transform="rotate(-90 403.7 249.4)" >in NKG2C+ NK cells</text>
<text x="389.4" y="382.8" font-size="10.6" fill="#000" color="#000" text-anchor="middle" textLength="62.2" lengthAdjust="spacingAndGlyphs" transform="rotate(-90 389.4 382.8)" >% of KIR2DL3</text>
<text x="402.6" y="380.0" font-size="10.6" fill="#000" color="#000" text-anchor="middle" textLength="85.6" lengthAdjust="spacingAndGlyphs" transform="rotate(-90 402.6 380.0)" >in NKG2C+ NK cells</text>
</svg>
</body></html>
